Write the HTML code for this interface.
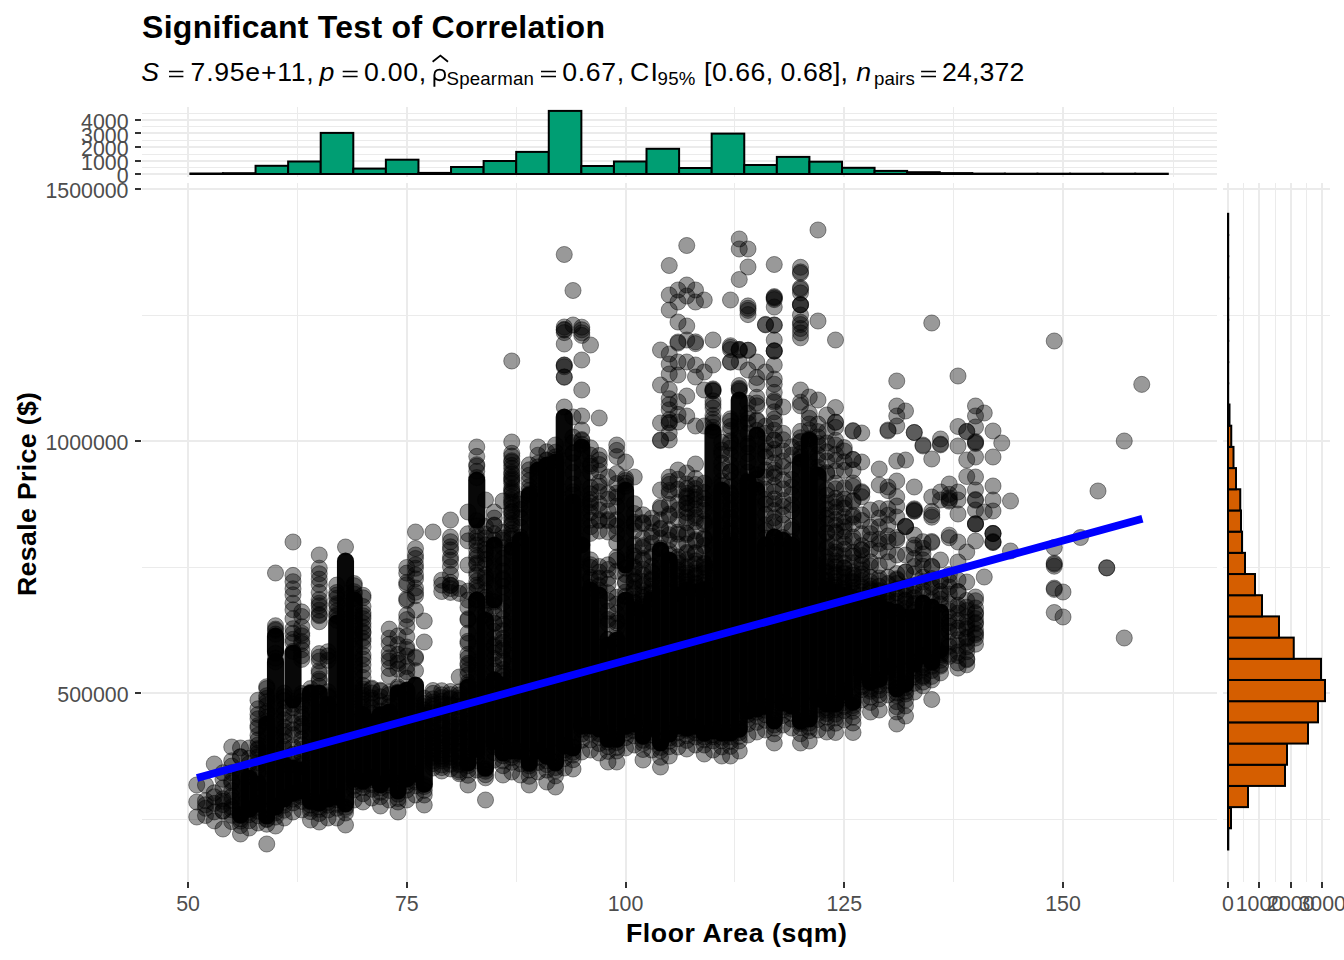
<!DOCTYPE html>
<html><head><meta charset="utf-8"><title>Significant Test of Correlation</title>
<style>html,body{margin:0;padding:0;background:#fff}body{width:1344px;height:960px;overflow:hidden;font-family:"Liberation Sans",sans-serif}</style>
</head><body>
<svg width="1344" height="960" viewBox="0 0 1344 960" style="display:block" font-family="Liberation Sans, sans-serif">
<rect width="1344" height="960" fill="#fff"/>
<g fill="#EBEBEB" shape-rendering="crispEdges"><rect x="297" y="183" width="1" height="699"/><rect x="297" y="107" width="1" height="70"/><rect x="516" y="183" width="1" height="699"/><rect x="516" y="107" width="1" height="70"/><rect x="734" y="183" width="1" height="699"/><rect x="734" y="107" width="1" height="70"/><rect x="953" y="183" width="1" height="699"/><rect x="953" y="107" width="1" height="70"/><rect x="1173" y="183" width="1" height="699"/><rect x="1173" y="107" width="1" height="70"/><rect x="187" y="183" width="2" height="699"/><rect x="187" y="107" width="2" height="70"/><rect x="406" y="183" width="2" height="699"/><rect x="406" y="107" width="2" height="70"/><rect x="625" y="183" width="2" height="699"/><rect x="625" y="107" width="2" height="70"/><rect x="843" y="183" width="2" height="699"/><rect x="843" y="107" width="2" height="70"/><rect x="1062" y="183" width="2" height="699"/><rect x="1062" y="107" width="2" height="70"/><rect x="142" y="315" width="1075" height="1"/><rect x="1223" y="315" width="107" height="1"/><rect x="142" y="567" width="1075" height="1"/><rect x="1223" y="567" width="107" height="1"/><rect x="142" y="819" width="1075" height="1"/><rect x="1223" y="819" width="107" height="1"/><rect x="142" y="188" width="1075" height="2"/><rect x="1223" y="188" width="107" height="2"/><rect x="142" y="440" width="1075" height="2"/><rect x="1223" y="440" width="107" height="2"/><rect x="142" y="692" width="1075" height="2"/><rect x="1223" y="692" width="107" height="2"/><rect x="142" y="113" width="1075" height="1"/><rect x="142" y="126" width="1075" height="1"/><rect x="142" y="140" width="1075" height="1"/><rect x="142" y="154" width="1075" height="1"/><rect x="142" y="167" width="1075" height="1"/><rect x="142" y="119" width="1075" height="2"/><rect x="142" y="132" width="1075" height="2"/><rect x="142" y="146" width="1075" height="2"/><rect x="142" y="160" width="1075" height="2"/><rect x="142" y="173" width="1075" height="2"/><rect x="1243" y="183" width="1" height="699"/><rect x="1275" y="183" width="1" height="699"/><rect x="1306" y="183" width="1" height="699"/><rect x="1227" y="183" width="2" height="699"/><rect x="1258" y="183" width="2" height="699"/><rect x="1290" y="183" width="2" height="699"/><rect x="1321" y="183" width="2" height="699"/></g>
<g fill="#333" shape-rendering="crispEdges"><rect x="135" y="188" width="6" height="2"/><rect x="135" y="440" width="6" height="2"/><rect x="135" y="692" width="6" height="2"/><rect x="135" y="119" width="6" height="2"/><rect x="135" y="132" width="6" height="2"/><rect x="135" y="146" width="6" height="2"/><rect x="135" y="160" width="6" height="2"/><rect x="135" y="173" width="6" height="2"/><rect x="187" y="882" width="2" height="6"/><rect x="406" y="882" width="2" height="6"/><rect x="625" y="882" width="2" height="6"/><rect x="843" y="882" width="2" height="6"/><rect x="1062" y="882" width="2" height="6"/><rect x="1227" y="882" width="2" height="6"/><rect x="1258" y="882" width="2" height="6"/><rect x="1290" y="882" width="2" height="6"/><rect x="1321" y="882" width="2" height="6"/></g>
<g fill="#000" fill-opacity=".97"><rect x="231.95" y="762.5" width="17.1" height="61.1" rx="8.55"/><rect x="240.70" y="769.5" width="17.1" height="48.1" rx="8.55"/><rect x="249.45" y="775.5" width="17.1" height="37.1" rx="8.55"/><rect x="258.20" y="715.5" width="17.1" height="109.1" rx="8.55"/><rect x="266.95" y="627.5" width="17.1" height="33.1" rx="8.55"/><rect x="266.95" y="653.5" width="17.1" height="162.1" rx="8.55"/><rect x="275.70" y="756.5" width="17.1" height="51.1" rx="8.55"/><rect x="284.45" y="644.5" width="17.1" height="64.1" rx="8.55"/><rect x="284.45" y="759.5" width="17.1" height="42.1" rx="8.55"/><rect x="293.20" y="761.5" width="17.1" height="38.1" rx="8.55"/><rect x="301.95" y="684.5" width="17.1" height="125.1" rx="8.55"/><rect x="310.70" y="684.5" width="17.1" height="127.1" rx="8.55"/><rect x="319.45" y="696.5" width="17.1" height="111.1" rx="8.55"/><rect x="328.20" y="614.5" width="17.1" height="191.1" rx="8.55"/><rect x="336.95" y="552.5" width="17.1" height="260.1" rx="8.55"/><rect x="345.70" y="591.5" width="17.1" height="196.1" rx="8.55"/><rect x="354.45" y="706.5" width="17.1" height="83.1" rx="8.55"/><rect x="363.20" y="713.5" width="17.1" height="72.1" rx="8.55"/><rect x="371.95" y="706.5" width="17.1" height="87.1" rx="8.55"/><rect x="380.70" y="703.5" width="17.1" height="84.1" rx="8.55"/><rect x="389.45" y="684.5" width="17.1" height="115.1" rx="8.55"/><rect x="398.20" y="681.5" width="17.1" height="106.1" rx="8.55"/><rect x="406.95" y="676.5" width="17.1" height="106.1" rx="8.55"/><rect x="415.70" y="706.5" width="17.1" height="86.1" rx="8.55"/><rect x="459.45" y="678.5" width="17.1" height="93.1" rx="8.55"/><rect x="468.20" y="471.4" width="17.1" height="57.1" rx="8.55"/><rect x="468.20" y="591.5" width="17.1" height="166.1" rx="8.55"/><rect x="476.95" y="611.5" width="17.1" height="165.1" rx="8.55"/><rect x="485.70" y="536.5" width="17.1" height="72.1" rx="8.55"/><rect x="485.70" y="671.5" width="17.1" height="78.1" rx="8.55"/><rect x="494.45" y="676.5" width="17.1" height="85.1" rx="8.55"/><rect x="503.20" y="541.5" width="17.1" height="218.1" rx="8.55"/><rect x="511.95" y="531.5" width="17.1" height="228.1" rx="8.55"/><rect x="520.70" y="486.4" width="17.1" height="285.1" rx="8.55"/><rect x="529.45" y="461.4" width="17.1" height="298.1" rx="8.55"/><rect x="538.20" y="456.4" width="17.1" height="308.1" rx="8.55"/><rect x="546.95" y="453.4" width="17.1" height="318.1" rx="8.55"/><rect x="555.70" y="408.4" width="17.1" height="346.1" rx="8.55"/><rect x="564.45" y="493.4" width="17.1" height="263.1" rx="8.55"/><rect x="573.20" y="438.4" width="17.1" height="115.1" rx="8.55"/><rect x="573.20" y="536.5" width="17.1" height="198.1" rx="8.55"/><rect x="581.95" y="581.5" width="17.1" height="153.1" rx="8.55"/><rect x="590.70" y="586.5" width="17.1" height="151.1" rx="8.55"/><rect x="599.45" y="636.5" width="17.1" height="111.1" rx="8.55"/><rect x="608.20" y="631.5" width="17.1" height="116.1" rx="8.55"/><rect x="616.95" y="481.4" width="17.1" height="92.1" rx="8.55"/><rect x="616.95" y="591.5" width="17.1" height="143.1" rx="8.55"/><rect x="625.70" y="601.5" width="17.1" height="131.1" rx="8.55"/><rect x="634.45" y="603.5" width="17.1" height="141.1" rx="8.55"/><rect x="643.20" y="591.5" width="17.1" height="145.1" rx="8.55"/><rect x="651.95" y="541.5" width="17.1" height="210.1" rx="8.55"/><rect x="660.70" y="551.5" width="17.1" height="191.1" rx="8.55"/><rect x="669.45" y="586.5" width="17.1" height="148.1" rx="8.55"/><rect x="678.20" y="581.5" width="17.1" height="155.1" rx="8.55"/><rect x="686.95" y="583.5" width="17.1" height="151.1" rx="8.55"/><rect x="695.70" y="581.5" width="17.1" height="160.1" rx="8.55"/><rect x="704.45" y="423.4" width="17.1" height="316.1" rx="8.55"/><rect x="713.20" y="481.4" width="17.1" height="260.1" rx="8.55"/><rect x="721.95" y="536.5" width="17.1" height="205.1" rx="8.55"/><rect x="730.70" y="391.4" width="17.1" height="346.1" rx="8.55"/><rect x="739.45" y="473.4" width="17.1" height="246.1" rx="8.55"/><rect x="748.20" y="426.4" width="17.1" height="52.1" rx="8.55"/><rect x="748.20" y="481.4" width="17.1" height="236.1" rx="8.55"/><rect x="756.95" y="536.5" width="17.1" height="178.1" rx="8.55"/><rect x="765.70" y="528.5" width="17.1" height="201.1" rx="8.55"/><rect x="774.45" y="531.5" width="17.1" height="180.1" rx="8.55"/><rect x="783.20" y="536.5" width="17.1" height="178.1" rx="8.55"/><rect x="791.95" y="453.4" width="17.1" height="276.1" rx="8.55"/><rect x="800.70" y="431.4" width="17.1" height="296.1" rx="8.55"/><rect x="809.45" y="466.4" width="17.1" height="241.1" rx="8.55"/><rect x="818.20" y="581.5" width="17.1" height="131.1" rx="8.55"/><rect x="826.95" y="583.5" width="17.1" height="129.1" rx="8.55"/><rect x="835.70" y="586.5" width="17.1" height="114.1" rx="8.55"/><rect x="844.45" y="589.5" width="17.1" height="121.1" rx="8.55"/><rect x="853.20" y="591.5" width="17.1" height="89.1" rx="8.55"/><rect x="861.95" y="594.5" width="17.1" height="96.1" rx="8.55"/><rect x="870.70" y="596.5" width="17.1" height="91.1" rx="8.55"/><rect x="879.45" y="601.5" width="17.1" height="74.1" rx="8.55"/><rect x="888.20" y="603.5" width="17.1" height="94.1" rx="8.55"/><rect x="896.95" y="608.5" width="17.1" height="84.1" rx="8.55"/><rect x="905.70" y="608.5" width="17.1" height="64.1" rx="8.55"/><rect x="914.45" y="594.5" width="17.1" height="69.1" rx="8.55"/><rect x="923.20" y="598.5" width="17.1" height="72.1" rx="8.55"/><rect x="931.95" y="603.5" width="17.1" height="55.1" rx="8.55"/></g>
<g fill="#000" fill-opacity=".4" stroke="#000" stroke-opacity=".4" stroke-width="1"><circle cx="196.75" cy="785.0" r="8.05"/><circle cx="196.75" cy="802.0" r="8.05"/><circle cx="196.75" cy="817.0" r="8.05"/><circle cx="205.50" cy="785.0" r="8.05"/><circle cx="205.50" cy="800.7" r="8.05"/><circle cx="205.50" cy="804.8" r="8.05"/><circle cx="205.50" cy="808.3" r="8.05"/><circle cx="205.50" cy="815.5" r="8.05"/><circle cx="214.25" cy="764.0" r="8.05"/><circle cx="214.25" cy="792.8" r="8.05"/><circle cx="214.25" cy="796.8" r="8.05"/><circle cx="214.25" cy="803.4" r="8.05"/><circle cx="214.25" cy="811.9" r="8.05"/><circle cx="214.25" cy="820.9" r="8.05"/><circle cx="223.00" cy="772.7" r="8.05"/><circle cx="223.00" cy="779.3" r="8.05"/><circle cx="223.00" cy="787.8" r="8.05"/><circle cx="223.00" cy="798.8" r="8.05"/><circle cx="223.00" cy="801.3" r="8.05"/><circle cx="223.00" cy="804.6" r="8.05"/><circle cx="223.00" cy="810.9" r="8.05"/><circle cx="223.00" cy="811.2" r="8.05"/><circle cx="223.00" cy="829.0" r="8.05"/><circle cx="231.75" cy="747.0" r="8.05"/><circle cx="231.75" cy="760.8" r="8.05"/><circle cx="231.75" cy="766.1" r="8.05"/><circle cx="231.75" cy="772.7" r="8.05"/><circle cx="231.75" cy="781.0" r="8.05"/><circle cx="231.75" cy="783.0" r="8.05"/><circle cx="231.75" cy="790.7" r="8.05"/><circle cx="231.75" cy="796.5" r="8.05"/><circle cx="231.75" cy="800.5" r="8.05"/><circle cx="231.75" cy="807.0" r="8.05"/><circle cx="231.75" cy="809.8" r="8.05"/><circle cx="231.75" cy="815.3" r="8.05"/><circle cx="231.75" cy="821.6" r="8.05"/><circle cx="240.50" cy="748.0" r="8.05"/><circle cx="240.50" cy="756.9" r="8.05"/><circle cx="240.50" cy="756.8" r="8.05"/><circle cx="240.50" cy="834.0" r="8.05"/><circle cx="240.50" cy="825.6" r="8.05"/><circle cx="240.50" cy="821.1" r="8.05"/><circle cx="240.50" cy="818.6" r="8.05"/><circle cx="240.50" cy="815.4" r="8.05"/><circle cx="249.25" cy="748.0" r="8.05"/><circle cx="249.25" cy="758.3" r="8.05"/><circle cx="249.25" cy="763.8" r="8.05"/><circle cx="249.25" cy="771.5" r="8.05"/><circle cx="249.25" cy="776.4" r="8.05"/><circle cx="249.25" cy="828.0" r="8.05"/><circle cx="249.25" cy="820.7" r="8.05"/><circle cx="249.25" cy="814.7" r="8.05"/><circle cx="249.25" cy="811.8" r="8.05"/><circle cx="249.25" cy="809.5" r="8.05"/><circle cx="258.00" cy="748.5" r="8.05"/><circle cx="258.00" cy="753.2" r="8.05"/><circle cx="258.00" cy="700.2" r="8.05"/><circle cx="258.00" cy="708.8" r="8.05"/><circle cx="258.00" cy="714.5" r="8.05"/><circle cx="258.00" cy="718.8" r="8.05"/><circle cx="258.00" cy="725.6" r="8.05"/><circle cx="258.00" cy="727.9" r="8.05"/><circle cx="258.00" cy="735.2" r="8.05"/><circle cx="258.00" cy="739.9" r="8.05"/><circle cx="258.00" cy="745.0" r="8.05"/><circle cx="258.00" cy="749.6" r="8.05"/><circle cx="258.00" cy="756.9" r="8.05"/><circle cx="258.00" cy="762.7" r="8.05"/><circle cx="258.00" cy="765.5" r="8.05"/><circle cx="258.00" cy="771.7" r="8.05"/><circle cx="258.00" cy="773.8" r="8.05"/><circle cx="258.00" cy="782.4" r="8.05"/><circle cx="258.00" cy="823.0" r="8.05"/><circle cx="258.00" cy="815.7" r="8.05"/><circle cx="258.00" cy="811.1" r="8.05"/><circle cx="258.00" cy="806.6" r="8.05"/><circle cx="258.00" cy="803.8" r="8.05"/><circle cx="266.75" cy="686.7" r="8.05"/><circle cx="266.75" cy="688.6" r="8.05"/><circle cx="266.75" cy="695.7" r="8.05"/><circle cx="266.75" cy="698.4" r="8.05"/><circle cx="266.75" cy="701.9" r="8.05"/><circle cx="266.75" cy="705.5" r="8.05"/><circle cx="266.75" cy="711.9" r="8.05"/><circle cx="266.75" cy="713.2" r="8.05"/><circle cx="266.75" cy="717.4" r="8.05"/><circle cx="266.75" cy="721.7" r="8.05"/><circle cx="266.75" cy="818.9" r="8.05"/><circle cx="266.75" cy="819.6" r="8.05"/><circle cx="266.75" cy="824.2" r="8.05"/><circle cx="266.75" cy="844.0" r="8.05"/><circle cx="275.50" cy="573.0" r="8.05"/><circle cx="275.50" cy="625.7" r="8.05"/><circle cx="275.50" cy="629.1" r="8.05"/><circle cx="275.50" cy="630.4" r="8.05"/><circle cx="275.50" cy="634.1" r="8.05"/><circle cx="275.50" cy="653.2" r="8.05"/><circle cx="275.50" cy="658.3" r="8.05"/><circle cx="275.50" cy="661.9" r="8.05"/><circle cx="275.50" cy="826.0" r="8.05"/><circle cx="275.50" cy="817.1" r="8.05"/><circle cx="275.50" cy="812.9" r="8.05"/><circle cx="275.50" cy="809.5" r="8.05"/><circle cx="275.50" cy="807.0" r="8.05"/><circle cx="284.25" cy="693.2" r="8.05"/><circle cx="284.25" cy="696.8" r="8.05"/><circle cx="284.25" cy="700.7" r="8.05"/><circle cx="284.25" cy="708.3" r="8.05"/><circle cx="284.25" cy="713.4" r="8.05"/><circle cx="284.25" cy="719.8" r="8.05"/><circle cx="284.25" cy="727.2" r="8.05"/><circle cx="284.25" cy="731.2" r="8.05"/><circle cx="284.25" cy="735.6" r="8.05"/><circle cx="284.25" cy="741.5" r="8.05"/><circle cx="284.25" cy="747.2" r="8.05"/><circle cx="284.25" cy="749.2" r="8.05"/><circle cx="284.25" cy="759.1" r="8.05"/><circle cx="284.25" cy="763.8" r="8.05"/><circle cx="284.25" cy="818.0" r="8.05"/><circle cx="284.25" cy="810.3" r="8.05"/><circle cx="284.25" cy="805.2" r="8.05"/><circle cx="284.25" cy="801.8" r="8.05"/><circle cx="284.25" cy="798.2" r="8.05"/><circle cx="293.00" cy="542.0" r="8.05"/><circle cx="293.00" cy="575.4" r="8.05"/><circle cx="293.00" cy="581.7" r="8.05"/><circle cx="293.00" cy="588.8" r="8.05"/><circle cx="293.00" cy="594.8" r="8.05"/><circle cx="293.00" cy="603.2" r="8.05"/><circle cx="293.00" cy="609.8" r="8.05"/><circle cx="293.00" cy="618.7" r="8.05"/><circle cx="293.00" cy="628.7" r="8.05"/><circle cx="293.00" cy="633.3" r="8.05"/><circle cx="293.00" cy="639.3" r="8.05"/><circle cx="293.00" cy="642.5" r="8.05"/><circle cx="293.00" cy="651.4" r="8.05"/><circle cx="293.00" cy="704.2" r="8.05"/><circle cx="293.00" cy="707.8" r="8.05"/><circle cx="293.00" cy="715.3" r="8.05"/><circle cx="293.00" cy="722.8" r="8.05"/><circle cx="293.00" cy="729.7" r="8.05"/><circle cx="293.00" cy="734.8" r="8.05"/><circle cx="293.00" cy="746.6" r="8.05"/><circle cx="293.00" cy="754.4" r="8.05"/><circle cx="293.00" cy="757.6" r="8.05"/><circle cx="293.00" cy="764.5" r="8.05"/><circle cx="293.00" cy="812.0" r="8.05"/><circle cx="293.00" cy="802.9" r="8.05"/><circle cx="293.00" cy="799.1" r="8.05"/><circle cx="293.00" cy="795.5" r="8.05"/><circle cx="293.00" cy="793.7" r="8.05"/><circle cx="301.75" cy="611.9" r="8.05"/><circle cx="301.75" cy="616.5" r="8.05"/><circle cx="301.75" cy="626.7" r="8.05"/><circle cx="301.75" cy="633.2" r="8.05"/><circle cx="301.75" cy="635.8" r="8.05"/><circle cx="301.75" cy="641.5" r="8.05"/><circle cx="301.75" cy="643.5" r="8.05"/><circle cx="301.75" cy="649.8" r="8.05"/><circle cx="301.75" cy="655.8" r="8.05"/><circle cx="301.75" cy="659.4" r="8.05"/><circle cx="301.75" cy="693.5" r="8.05"/><circle cx="301.75" cy="696.3" r="8.05"/><circle cx="301.75" cy="701.8" r="8.05"/><circle cx="301.75" cy="705.8" r="8.05"/><circle cx="301.75" cy="713.9" r="8.05"/><circle cx="301.75" cy="717.7" r="8.05"/><circle cx="301.75" cy="723.9" r="8.05"/><circle cx="301.75" cy="726.6" r="8.05"/><circle cx="301.75" cy="731.1" r="8.05"/><circle cx="301.75" cy="739.1" r="8.05"/><circle cx="301.75" cy="744.9" r="8.05"/><circle cx="301.75" cy="749.3" r="8.05"/><circle cx="301.75" cy="754.0" r="8.05"/><circle cx="301.75" cy="759.1" r="8.05"/><circle cx="301.75" cy="763.7" r="8.05"/><circle cx="301.75" cy="766.1" r="8.05"/><circle cx="301.75" cy="810.0" r="8.05"/><circle cx="301.75" cy="801.4" r="8.05"/><circle cx="301.75" cy="796.5" r="8.05"/><circle cx="301.75" cy="793.1" r="8.05"/><circle cx="301.75" cy="790.6" r="8.05"/><circle cx="310.50" cy="688.6" r="8.05"/><circle cx="310.50" cy="692.2" r="8.05"/><circle cx="310.50" cy="820.0" r="8.05"/><circle cx="310.50" cy="811.6" r="8.05"/><circle cx="310.50" cy="808.3" r="8.05"/><circle cx="310.50" cy="805.0" r="8.05"/><circle cx="310.50" cy="801.9" r="8.05"/><circle cx="319.25" cy="555.0" r="8.05"/><circle cx="319.25" cy="568.2" r="8.05"/><circle cx="319.25" cy="573.7" r="8.05"/><circle cx="319.25" cy="579.1" r="8.05"/><circle cx="319.25" cy="584.6" r="8.05"/><circle cx="319.25" cy="592.4" r="8.05"/><circle cx="319.25" cy="599.5" r="8.05"/><circle cx="319.25" cy="603.2" r="8.05"/><circle cx="319.25" cy="605.7" r="8.05"/><circle cx="319.25" cy="610.2" r="8.05"/><circle cx="319.25" cy="614.6" r="8.05"/><circle cx="319.25" cy="615.7" r="8.05"/><circle cx="319.25" cy="621.7" r="8.05"/><circle cx="319.25" cy="653.6" r="8.05"/><circle cx="319.25" cy="657.1" r="8.05"/><circle cx="319.25" cy="661.0" r="8.05"/><circle cx="319.25" cy="670.7" r="8.05"/><circle cx="319.25" cy="673.2" r="8.05"/><circle cx="319.25" cy="679.0" r="8.05"/><circle cx="319.25" cy="681.0" r="8.05"/><circle cx="319.25" cy="686.3" r="8.05"/><circle cx="319.25" cy="822.0" r="8.05"/><circle cx="319.25" cy="813.5" r="8.05"/><circle cx="319.25" cy="809.3" r="8.05"/><circle cx="319.25" cy="806.9" r="8.05"/><circle cx="319.25" cy="803.4" r="8.05"/><circle cx="328.00" cy="651.7" r="8.05"/><circle cx="328.00" cy="655.9" r="8.05"/><circle cx="328.00" cy="660.3" r="8.05"/><circle cx="328.00" cy="691.8" r="8.05"/><circle cx="328.00" cy="695.7" r="8.05"/><circle cx="328.00" cy="697.1" r="8.05"/><circle cx="328.00" cy="704.3" r="8.05"/><circle cx="328.00" cy="818.0" r="8.05"/><circle cx="328.00" cy="810.0" r="8.05"/><circle cx="328.00" cy="805.2" r="8.05"/><circle cx="328.00" cy="802.1" r="8.05"/><circle cx="328.00" cy="798.3" r="8.05"/><circle cx="336.75" cy="585.1" r="8.05"/><circle cx="336.75" cy="592.5" r="8.05"/><circle cx="336.75" cy="595.1" r="8.05"/><circle cx="336.75" cy="598.4" r="8.05"/><circle cx="336.75" cy="603.7" r="8.05"/><circle cx="336.75" cy="605.6" r="8.05"/><circle cx="336.75" cy="611.1" r="8.05"/><circle cx="336.75" cy="614.7" r="8.05"/><circle cx="336.75" cy="616.2" r="8.05"/><circle cx="336.75" cy="620.2" r="8.05"/><circle cx="336.75" cy="818.0" r="8.05"/><circle cx="336.75" cy="808.3" r="8.05"/><circle cx="336.75" cy="804.3" r="8.05"/><circle cx="336.75" cy="799.8" r="8.05"/><circle cx="336.75" cy="796.8" r="8.05"/><circle cx="345.50" cy="547.0" r="8.05"/><circle cx="345.50" cy="807.3" r="8.05"/><circle cx="345.50" cy="809.0" r="8.05"/><circle cx="345.50" cy="813.0" r="8.05"/><circle cx="345.50" cy="825.0" r="8.05"/><circle cx="354.25" cy="583.6" r="8.05"/><circle cx="354.25" cy="585.7" r="8.05"/><circle cx="354.25" cy="591.7" r="8.05"/><circle cx="354.25" cy="594.0" r="8.05"/><circle cx="354.25" cy="598.1" r="8.05"/><circle cx="354.25" cy="800.0" r="8.05"/><circle cx="354.25" cy="789.9" r="8.05"/><circle cx="354.25" cy="786.0" r="8.05"/><circle cx="354.25" cy="781.7" r="8.05"/><circle cx="354.25" cy="778.0" r="8.05"/><circle cx="363.00" cy="595.3" r="8.05"/><circle cx="363.00" cy="597.8" r="8.05"/><circle cx="363.00" cy="606.5" r="8.05"/><circle cx="363.00" cy="612.7" r="8.05"/><circle cx="363.00" cy="615.8" r="8.05"/><circle cx="363.00" cy="618.7" r="8.05"/><circle cx="363.00" cy="623.2" r="8.05"/><circle cx="363.00" cy="627.1" r="8.05"/><circle cx="363.00" cy="631.7" r="8.05"/><circle cx="363.00" cy="632.9" r="8.05"/><circle cx="363.00" cy="638.4" r="8.05"/><circle cx="363.00" cy="641.3" r="8.05"/><circle cx="363.00" cy="646.9" r="8.05"/><circle cx="363.00" cy="655.0" r="8.05"/><circle cx="363.00" cy="659.0" r="8.05"/><circle cx="363.00" cy="664.8" r="8.05"/><circle cx="363.00" cy="671.3" r="8.05"/><circle cx="363.00" cy="677.5" r="8.05"/><circle cx="363.00" cy="685.4" r="8.05"/><circle cx="363.00" cy="689.0" r="8.05"/><circle cx="363.00" cy="691.8" r="8.05"/><circle cx="363.00" cy="694.9" r="8.05"/><circle cx="363.00" cy="698.5" r="8.05"/><circle cx="363.00" cy="700.9" r="8.05"/><circle cx="363.00" cy="704.3" r="8.05"/><circle cx="363.00" cy="707.2" r="8.05"/><circle cx="363.00" cy="711.7" r="8.05"/><circle cx="363.00" cy="714.1" r="8.05"/><circle cx="363.00" cy="802.0" r="8.05"/><circle cx="363.00" cy="793.7" r="8.05"/><circle cx="363.00" cy="787.7" r="8.05"/><circle cx="363.00" cy="784.4" r="8.05"/><circle cx="363.00" cy="781.9" r="8.05"/><circle cx="371.75" cy="688.1" r="8.05"/><circle cx="371.75" cy="689.3" r="8.05"/><circle cx="371.75" cy="693.0" r="8.05"/><circle cx="371.75" cy="697.9" r="8.05"/><circle cx="371.75" cy="700.3" r="8.05"/><circle cx="371.75" cy="704.5" r="8.05"/><circle cx="371.75" cy="707.6" r="8.05"/><circle cx="371.75" cy="713.5" r="8.05"/><circle cx="371.75" cy="717.5" r="8.05"/><circle cx="371.75" cy="721.6" r="8.05"/><circle cx="371.75" cy="798.0" r="8.05"/><circle cx="371.75" cy="789.3" r="8.05"/><circle cx="371.75" cy="784.5" r="8.05"/><circle cx="371.75" cy="779.6" r="8.05"/><circle cx="371.75" cy="777.8" r="8.05"/><circle cx="380.50" cy="690.2" r="8.05"/><circle cx="380.50" cy="691.1" r="8.05"/><circle cx="380.50" cy="696.8" r="8.05"/><circle cx="380.50" cy="701.5" r="8.05"/><circle cx="380.50" cy="705.6" r="8.05"/><circle cx="380.50" cy="711.2" r="8.05"/><circle cx="380.50" cy="714.4" r="8.05"/><circle cx="380.50" cy="806.0" r="8.05"/><circle cx="380.50" cy="796.7" r="8.05"/><circle cx="380.50" cy="792.2" r="8.05"/><circle cx="380.50" cy="788.0" r="8.05"/><circle cx="380.50" cy="784.4" r="8.05"/><circle cx="389.25" cy="629.1" r="8.05"/><circle cx="389.25" cy="638.2" r="8.05"/><circle cx="389.25" cy="644.1" r="8.05"/><circle cx="389.25" cy="652.8" r="8.05"/><circle cx="389.25" cy="657.8" r="8.05"/><circle cx="389.25" cy="661.1" r="8.05"/><circle cx="389.25" cy="668.5" r="8.05"/><circle cx="389.25" cy="675.9" r="8.05"/><circle cx="389.25" cy="692.3" r="8.05"/><circle cx="389.25" cy="694.7" r="8.05"/><circle cx="389.25" cy="703.1" r="8.05"/><circle cx="389.25" cy="706.7" r="8.05"/><circle cx="389.25" cy="711.9" r="8.05"/><circle cx="389.25" cy="800.0" r="8.05"/><circle cx="389.25" cy="790.4" r="8.05"/><circle cx="389.25" cy="785.2" r="8.05"/><circle cx="389.25" cy="782.9" r="8.05"/><circle cx="389.25" cy="778.5" r="8.05"/><circle cx="398.00" cy="635.9" r="8.05"/><circle cx="398.00" cy="644.5" r="8.05"/><circle cx="398.00" cy="654.4" r="8.05"/><circle cx="398.00" cy="660.5" r="8.05"/><circle cx="398.00" cy="663.4" r="8.05"/><circle cx="398.00" cy="669.3" r="8.05"/><circle cx="398.00" cy="686.8" r="8.05"/><circle cx="398.00" cy="688.7" r="8.05"/><circle cx="398.00" cy="692.1" r="8.05"/><circle cx="398.00" cy="812.0" r="8.05"/><circle cx="398.00" cy="802.0" r="8.05"/><circle cx="398.00" cy="798.5" r="8.05"/><circle cx="398.00" cy="794.2" r="8.05"/><circle cx="398.00" cy="790.1" r="8.05"/><circle cx="406.75" cy="567.5" r="8.05"/><circle cx="406.75" cy="573.1" r="8.05"/><circle cx="406.75" cy="582.4" r="8.05"/><circle cx="406.75" cy="584.7" r="8.05"/><circle cx="406.75" cy="598.8" r="8.05"/><circle cx="406.75" cy="600.5" r="8.05"/><circle cx="406.75" cy="614.9" r="8.05"/><circle cx="406.75" cy="619.6" r="8.05"/><circle cx="406.75" cy="626.7" r="8.05"/><circle cx="406.75" cy="636.4" r="8.05"/><circle cx="406.75" cy="647.0" r="8.05"/><circle cx="406.75" cy="649.5" r="8.05"/><circle cx="406.75" cy="656.0" r="8.05"/><circle cx="406.75" cy="666.5" r="8.05"/><circle cx="406.75" cy="671.8" r="8.05"/><circle cx="406.75" cy="678.3" r="8.05"/><circle cx="406.75" cy="800.0" r="8.05"/><circle cx="406.75" cy="790.0" r="8.05"/><circle cx="406.75" cy="785.5" r="8.05"/><circle cx="406.75" cy="782.0" r="8.05"/><circle cx="406.75" cy="778.6" r="8.05"/><circle cx="415.50" cy="532.0" r="8.05"/><circle cx="415.50" cy="548.5" r="8.05"/><circle cx="415.50" cy="555.0" r="8.05"/><circle cx="415.50" cy="558.5" r="8.05"/><circle cx="415.50" cy="564.7" r="8.05"/><circle cx="415.50" cy="568.3" r="8.05"/><circle cx="415.50" cy="574.8" r="8.05"/><circle cx="415.50" cy="578.9" r="8.05"/><circle cx="415.50" cy="588.0" r="8.05"/><circle cx="415.50" cy="592.3" r="8.05"/><circle cx="415.50" cy="595.7" r="8.05"/><circle cx="415.50" cy="610.0" r="8.05"/><circle cx="415.50" cy="656.9" r="8.05"/><circle cx="415.50" cy="658.1" r="8.05"/><circle cx="415.50" cy="670.7" r="8.05"/><circle cx="415.50" cy="795.0" r="8.05"/><circle cx="415.50" cy="785.8" r="8.05"/><circle cx="415.50" cy="781.8" r="8.05"/><circle cx="415.50" cy="777.1" r="8.05"/><circle cx="415.50" cy="774.0" r="8.05"/><circle cx="424.25" cy="621.0" r="8.05"/><circle cx="424.25" cy="642.0" r="8.05"/><circle cx="424.25" cy="698.2" r="8.05"/><circle cx="424.25" cy="703.6" r="8.05"/><circle cx="424.25" cy="706.7" r="8.05"/><circle cx="424.25" cy="710.1" r="8.05"/><circle cx="424.25" cy="712.9" r="8.05"/><circle cx="424.25" cy="805.0" r="8.05"/><circle cx="424.25" cy="795.0" r="8.05"/><circle cx="424.25" cy="790.4" r="8.05"/><circle cx="424.25" cy="786.5" r="8.05"/><circle cx="424.25" cy="784.5" r="8.05"/><circle cx="433.00" cy="532.0" r="8.05"/><circle cx="433.00" cy="690.5" r="8.05"/><circle cx="433.00" cy="693.4" r="8.05"/><circle cx="433.00" cy="698.9" r="8.05"/><circle cx="433.00" cy="702.1" r="8.05"/><circle cx="433.00" cy="704.6" r="8.05"/><circle cx="433.00" cy="706.5" r="8.05"/><circle cx="433.00" cy="709.5" r="8.05"/><circle cx="433.00" cy="712.8" r="8.05"/><circle cx="433.00" cy="716.1" r="8.05"/><circle cx="433.00" cy="717.9" r="8.05"/><circle cx="433.00" cy="721.1" r="8.05"/><circle cx="433.00" cy="723.2" r="8.05"/><circle cx="433.00" cy="727.4" r="8.05"/><circle cx="433.00" cy="729.9" r="8.05"/><circle cx="433.00" cy="731.4" r="8.05"/><circle cx="433.00" cy="733.1" r="8.05"/><circle cx="433.00" cy="737.4" r="8.05"/><circle cx="433.00" cy="738.3" r="8.05"/><circle cx="433.00" cy="740.9" r="8.05"/><circle cx="433.00" cy="742.5" r="8.05"/><circle cx="433.00" cy="746.0" r="8.05"/><circle cx="433.00" cy="748.7" r="8.05"/><circle cx="433.00" cy="751.3" r="8.05"/><circle cx="433.00" cy="753.0" r="8.05"/><circle cx="433.00" cy="756.3" r="8.05"/><circle cx="433.00" cy="757.5" r="8.05"/><circle cx="433.00" cy="760.9" r="8.05"/><circle cx="433.00" cy="763.6" r="8.05"/><circle cx="433.00" cy="768.0" r="8.05"/><circle cx="441.75" cy="580.2" r="8.05"/><circle cx="441.75" cy="585.1" r="8.05"/><circle cx="441.75" cy="591.5" r="8.05"/><circle cx="441.75" cy="690.7" r="8.05"/><circle cx="441.75" cy="694.8" r="8.05"/><circle cx="441.75" cy="697.6" r="8.05"/><circle cx="441.75" cy="701.3" r="8.05"/><circle cx="441.75" cy="704.0" r="8.05"/><circle cx="441.75" cy="707.1" r="8.05"/><circle cx="441.75" cy="710.6" r="8.05"/><circle cx="441.75" cy="712.2" r="8.05"/><circle cx="441.75" cy="715.0" r="8.05"/><circle cx="441.75" cy="720.0" r="8.05"/><circle cx="441.75" cy="720.4" r="8.05"/><circle cx="441.75" cy="724.5" r="8.05"/><circle cx="441.75" cy="726.9" r="8.05"/><circle cx="441.75" cy="728.0" r="8.05"/><circle cx="441.75" cy="732.7" r="8.05"/><circle cx="441.75" cy="735.5" r="8.05"/><circle cx="441.75" cy="737.4" r="8.05"/><circle cx="441.75" cy="740.3" r="8.05"/><circle cx="441.75" cy="743.1" r="8.05"/><circle cx="441.75" cy="744.0" r="8.05"/><circle cx="441.75" cy="747.6" r="8.05"/><circle cx="441.75" cy="750.2" r="8.05"/><circle cx="441.75" cy="753.7" r="8.05"/><circle cx="441.75" cy="756.2" r="8.05"/><circle cx="441.75" cy="758.9" r="8.05"/><circle cx="441.75" cy="760.9" r="8.05"/><circle cx="441.75" cy="765.0" r="8.05"/><circle cx="441.75" cy="767.6" r="8.05"/><circle cx="441.75" cy="771.0" r="8.05"/><circle cx="450.50" cy="520.0" r="8.05"/><circle cx="450.50" cy="537.1" r="8.05"/><circle cx="450.50" cy="541.7" r="8.05"/><circle cx="450.50" cy="546.8" r="8.05"/><circle cx="450.50" cy="549.9" r="8.05"/><circle cx="450.50" cy="557.1" r="8.05"/><circle cx="450.50" cy="560.2" r="8.05"/><circle cx="450.50" cy="566.8" r="8.05"/><circle cx="450.50" cy="574.4" r="8.05"/><circle cx="450.50" cy="582.4" r="8.05"/><circle cx="450.50" cy="588.5" r="8.05"/><circle cx="450.50" cy="592.4" r="8.05"/><circle cx="450.50" cy="585.4" r="8.05"/><circle cx="450.50" cy="585.3" r="8.05"/><circle cx="450.50" cy="691.5" r="8.05"/><circle cx="450.50" cy="694.6" r="8.05"/><circle cx="450.50" cy="698.0" r="8.05"/><circle cx="450.50" cy="699.2" r="8.05"/><circle cx="450.50" cy="704.2" r="8.05"/><circle cx="450.50" cy="705.8" r="8.05"/><circle cx="450.50" cy="708.2" r="8.05"/><circle cx="450.50" cy="711.8" r="8.05"/><circle cx="450.50" cy="716.2" r="8.05"/><circle cx="450.50" cy="717.6" r="8.05"/><circle cx="450.50" cy="721.8" r="8.05"/><circle cx="450.50" cy="724.9" r="8.05"/><circle cx="450.50" cy="726.2" r="8.05"/><circle cx="450.50" cy="728.5" r="8.05"/><circle cx="450.50" cy="731.2" r="8.05"/><circle cx="450.50" cy="734.2" r="8.05"/><circle cx="450.50" cy="736.9" r="8.05"/><circle cx="450.50" cy="739.0" r="8.05"/><circle cx="450.50" cy="741.6" r="8.05"/><circle cx="450.50" cy="742.7" r="8.05"/><circle cx="450.50" cy="745.4" r="8.05"/><circle cx="450.50" cy="748.1" r="8.05"/><circle cx="450.50" cy="751.9" r="8.05"/><circle cx="450.50" cy="753.3" r="8.05"/><circle cx="450.50" cy="756.4" r="8.05"/><circle cx="450.50" cy="757.5" r="8.05"/><circle cx="450.50" cy="760.2" r="8.05"/><circle cx="450.50" cy="764.2" r="8.05"/><circle cx="450.50" cy="768.9" r="8.05"/><circle cx="459.25" cy="588.5" r="8.05"/><circle cx="459.25" cy="593.4" r="8.05"/><circle cx="459.25" cy="677.0" r="8.05"/><circle cx="459.25" cy="691.7" r="8.05"/><circle cx="459.25" cy="694.9" r="8.05"/><circle cx="459.25" cy="698.2" r="8.05"/><circle cx="459.25" cy="700.4" r="8.05"/><circle cx="459.25" cy="706.3" r="8.05"/><circle cx="459.25" cy="707.3" r="8.05"/><circle cx="459.25" cy="713.3" r="8.05"/><circle cx="459.25" cy="716.5" r="8.05"/><circle cx="459.25" cy="716.7" r="8.05"/><circle cx="459.25" cy="721.2" r="8.05"/><circle cx="459.25" cy="724.8" r="8.05"/><circle cx="459.25" cy="727.8" r="8.05"/><circle cx="459.25" cy="729.0" r="8.05"/><circle cx="459.25" cy="731.1" r="8.05"/><circle cx="459.25" cy="733.6" r="8.05"/><circle cx="459.25" cy="738.1" r="8.05"/><circle cx="459.25" cy="738.8" r="8.05"/><circle cx="459.25" cy="742.4" r="8.05"/><circle cx="459.25" cy="743.9" r="8.05"/><circle cx="459.25" cy="747.5" r="8.05"/><circle cx="459.25" cy="751.2" r="8.05"/><circle cx="459.25" cy="751.7" r="8.05"/><circle cx="459.25" cy="756.1" r="8.05"/><circle cx="459.25" cy="757.9" r="8.05"/><circle cx="459.25" cy="761.5" r="8.05"/><circle cx="459.25" cy="763.6" r="8.05"/><circle cx="459.25" cy="765.0" r="8.05"/><circle cx="459.25" cy="770.0" r="8.05"/><circle cx="459.25" cy="772.0" r="8.05"/><circle cx="459.25" cy="773.7" r="8.05"/><circle cx="468.00" cy="512.0" r="8.05"/><circle cx="468.00" cy="533.7" r="8.05"/><circle cx="468.00" cy="540.9" r="8.05"/><circle cx="468.00" cy="565.0" r="8.05"/><circle cx="468.00" cy="591.1" r="8.05"/><circle cx="468.00" cy="600.1" r="8.05"/><circle cx="468.00" cy="607.4" r="8.05"/><circle cx="468.00" cy="618.8" r="8.05"/><circle cx="468.00" cy="620.0" r="8.05"/><circle cx="468.00" cy="633.1" r="8.05"/><circle cx="468.00" cy="641.3" r="8.05"/><circle cx="468.00" cy="643.4" r="8.05"/><circle cx="468.00" cy="654.3" r="8.05"/><circle cx="468.00" cy="657.9" r="8.05"/><circle cx="468.00" cy="663.4" r="8.05"/><circle cx="468.00" cy="665.2" r="8.05"/><circle cx="468.00" cy="670.2" r="8.05"/><circle cx="468.00" cy="674.9" r="8.05"/><circle cx="468.00" cy="682.4" r="8.05"/><circle cx="468.00" cy="685.1" r="8.05"/><circle cx="468.00" cy="785.0" r="8.05"/><circle cx="468.00" cy="775.3" r="8.05"/><circle cx="468.00" cy="770.0" r="8.05"/><circle cx="468.00" cy="765.6" r="8.05"/><circle cx="468.00" cy="762.2" r="8.05"/><circle cx="476.75" cy="447.0" r="8.05"/><circle cx="476.75" cy="456.4" r="8.05"/><circle cx="476.75" cy="464.7" r="8.05"/><circle cx="476.75" cy="466.2" r="8.05"/><circle cx="476.75" cy="471.3" r="8.05"/><circle cx="476.75" cy="477.6" r="8.05"/><circle cx="476.75" cy="520.8" r="8.05"/><circle cx="476.75" cy="526.1" r="8.05"/><circle cx="476.75" cy="533.1" r="8.05"/><circle cx="476.75" cy="537.3" r="8.05"/><circle cx="476.75" cy="541.4" r="8.05"/><circle cx="476.75" cy="545.0" r="8.05"/><circle cx="476.75" cy="550.7" r="8.05"/><circle cx="476.75" cy="555.3" r="8.05"/><circle cx="476.75" cy="558.0" r="8.05"/><circle cx="476.75" cy="563.2" r="8.05"/><circle cx="476.75" cy="564.7" r="8.05"/><circle cx="476.75" cy="572.1" r="8.05"/><circle cx="476.75" cy="575.3" r="8.05"/><circle cx="476.75" cy="581.1" r="8.05"/><circle cx="476.75" cy="585.1" r="8.05"/><circle cx="476.75" cy="587.9" r="8.05"/><circle cx="476.75" cy="591.3" r="8.05"/><circle cx="476.75" cy="599.7" r="8.05"/><circle cx="476.75" cy="770.0" r="8.05"/><circle cx="476.75" cy="760.8" r="8.05"/><circle cx="476.75" cy="755.8" r="8.05"/><circle cx="476.75" cy="751.9" r="8.05"/><circle cx="476.75" cy="749.5" r="8.05"/><circle cx="485.50" cy="500.0" r="8.05"/><circle cx="485.50" cy="526.5" r="8.05"/><circle cx="485.50" cy="534.3" r="8.05"/><circle cx="485.50" cy="537.9" r="8.05"/><circle cx="485.50" cy="544.9" r="8.05"/><circle cx="485.50" cy="549.6" r="8.05"/><circle cx="485.50" cy="553.9" r="8.05"/><circle cx="485.50" cy="559.4" r="8.05"/><circle cx="485.50" cy="565.3" r="8.05"/><circle cx="485.50" cy="574.8" r="8.05"/><circle cx="485.50" cy="578.1" r="8.05"/><circle cx="485.50" cy="582.1" r="8.05"/><circle cx="485.50" cy="591.5" r="8.05"/><circle cx="485.50" cy="597.6" r="8.05"/><circle cx="485.50" cy="600.2" r="8.05"/><circle cx="485.50" cy="604.0" r="8.05"/><circle cx="485.50" cy="609.9" r="8.05"/><circle cx="485.50" cy="614.9" r="8.05"/><circle cx="485.50" cy="769.0" r="8.05"/><circle cx="485.50" cy="771.3" r="8.05"/><circle cx="485.50" cy="774.7" r="8.05"/><circle cx="485.50" cy="777.8" r="8.05"/><circle cx="485.50" cy="800.0" r="8.05"/><circle cx="494.25" cy="512.0" r="8.05"/><circle cx="494.25" cy="525.0" r="8.05"/><circle cx="494.25" cy="518.1" r="8.05"/><circle cx="494.25" cy="525.6" r="8.05"/><circle cx="494.25" cy="533.9" r="8.05"/><circle cx="494.25" cy="540.3" r="8.05"/><circle cx="494.25" cy="601.9" r="8.05"/><circle cx="494.25" cy="606.1" r="8.05"/><circle cx="494.25" cy="613.0" r="8.05"/><circle cx="494.25" cy="622.7" r="8.05"/><circle cx="494.25" cy="623.6" r="8.05"/><circle cx="494.25" cy="631.4" r="8.05"/><circle cx="494.25" cy="637.9" r="8.05"/><circle cx="494.25" cy="644.9" r="8.05"/><circle cx="494.25" cy="646.9" r="8.05"/><circle cx="494.25" cy="653.0" r="8.05"/><circle cx="494.25" cy="658.6" r="8.05"/><circle cx="494.25" cy="665.1" r="8.05"/><circle cx="494.25" cy="671.1" r="8.05"/><circle cx="494.25" cy="679.7" r="8.05"/><circle cx="494.25" cy="760.0" r="8.05"/><circle cx="494.25" cy="752.5" r="8.05"/><circle cx="494.25" cy="746.5" r="8.05"/><circle cx="494.25" cy="743.1" r="8.05"/><circle cx="494.25" cy="741.4" r="8.05"/><circle cx="503.00" cy="501.0" r="8.05"/><circle cx="503.00" cy="532.4" r="8.05"/><circle cx="503.00" cy="537.9" r="8.05"/><circle cx="503.00" cy="540.0" r="8.05"/><circle cx="503.00" cy="547.7" r="8.05"/><circle cx="503.00" cy="558.1" r="8.05"/><circle cx="503.00" cy="564.2" r="8.05"/><circle cx="503.00" cy="571.2" r="8.05"/><circle cx="503.00" cy="578.7" r="8.05"/><circle cx="503.00" cy="580.6" r="8.05"/><circle cx="503.00" cy="586.5" r="8.05"/><circle cx="503.00" cy="593.5" r="8.05"/><circle cx="503.00" cy="602.8" r="8.05"/><circle cx="503.00" cy="610.7" r="8.05"/><circle cx="503.00" cy="619.2" r="8.05"/><circle cx="503.00" cy="624.5" r="8.05"/><circle cx="503.00" cy="630.8" r="8.05"/><circle cx="503.00" cy="638.4" r="8.05"/><circle cx="503.00" cy="642.3" r="8.05"/><circle cx="503.00" cy="647.8" r="8.05"/><circle cx="503.00" cy="650.2" r="8.05"/><circle cx="503.00" cy="658.9" r="8.05"/><circle cx="503.00" cy="661.2" r="8.05"/><circle cx="503.00" cy="669.6" r="8.05"/><circle cx="503.00" cy="673.2" r="8.05"/><circle cx="503.00" cy="676.5" r="8.05"/><circle cx="503.00" cy="680.6" r="8.05"/><circle cx="503.00" cy="775.0" r="8.05"/><circle cx="503.00" cy="765.7" r="8.05"/><circle cx="503.00" cy="760.9" r="8.05"/><circle cx="503.00" cy="755.7" r="8.05"/><circle cx="503.00" cy="752.1" r="8.05"/><circle cx="511.75" cy="361.0" r="8.05"/><circle cx="511.75" cy="442.0" r="8.05"/><circle cx="511.75" cy="453.3" r="8.05"/><circle cx="511.75" cy="456.1" r="8.05"/><circle cx="511.75" cy="460.7" r="8.05"/><circle cx="511.75" cy="462.0" r="8.05"/><circle cx="511.75" cy="465.4" r="8.05"/><circle cx="511.75" cy="468.4" r="8.05"/><circle cx="511.75" cy="472.4" r="8.05"/><circle cx="511.75" cy="474.1" r="8.05"/><circle cx="511.75" cy="477.4" r="8.05"/><circle cx="511.75" cy="478.9" r="8.05"/><circle cx="511.75" cy="480.9" r="8.05"/><circle cx="511.75" cy="483.6" r="8.05"/><circle cx="511.75" cy="488.1" r="8.05"/><circle cx="511.75" cy="490.0" r="8.05"/><circle cx="511.75" cy="491.6" r="8.05"/><circle cx="511.75" cy="493.4" r="8.05"/><circle cx="511.75" cy="497.3" r="8.05"/><circle cx="511.75" cy="500.4" r="8.05"/><circle cx="511.75" cy="502.3" r="8.05"/><circle cx="511.75" cy="504.5" r="8.05"/><circle cx="511.75" cy="508.2" r="8.05"/><circle cx="511.75" cy="511.5" r="8.05"/><circle cx="511.75" cy="512.3" r="8.05"/><circle cx="511.75" cy="514.4" r="8.05"/><circle cx="511.75" cy="517.8" r="8.05"/><circle cx="511.75" cy="520.6" r="8.05"/><circle cx="511.75" cy="523.9" r="8.05"/><circle cx="511.75" cy="525.3" r="8.05"/><circle cx="511.75" cy="529.5" r="8.05"/><circle cx="511.75" cy="533.0" r="8.05"/><circle cx="511.75" cy="536.0" r="8.05"/><circle cx="511.75" cy="538.8" r="8.05"/><circle cx="511.75" cy="545.9" r="8.05"/><circle cx="511.75" cy="547.2" r="8.05"/><circle cx="511.75" cy="772.0" r="8.05"/><circle cx="511.75" cy="762.3" r="8.05"/><circle cx="511.75" cy="757.6" r="8.05"/><circle cx="511.75" cy="754.9" r="8.05"/><circle cx="511.75" cy="750.6" r="8.05"/><circle cx="520.50" cy="499.6" r="8.05"/><circle cx="520.50" cy="504.0" r="8.05"/><circle cx="520.50" cy="509.5" r="8.05"/><circle cx="520.50" cy="517.8" r="8.05"/><circle cx="520.50" cy="527.3" r="8.05"/><circle cx="520.50" cy="537.3" r="8.05"/><circle cx="520.50" cy="775.0" r="8.05"/><circle cx="520.50" cy="763.8" r="8.05"/><circle cx="520.50" cy="759.0" r="8.05"/><circle cx="520.50" cy="754.2" r="8.05"/><circle cx="520.50" cy="751.9" r="8.05"/><circle cx="529.25" cy="464.8" r="8.05"/><circle cx="529.25" cy="469.8" r="8.05"/><circle cx="529.25" cy="475.2" r="8.05"/><circle cx="529.25" cy="480.6" r="8.05"/><circle cx="529.25" cy="486.6" r="8.05"/><circle cx="529.25" cy="490.5" r="8.05"/><circle cx="529.25" cy="493.9" r="8.05"/><circle cx="529.25" cy="785.0" r="8.05"/><circle cx="529.25" cy="776.3" r="8.05"/><circle cx="529.25" cy="770.1" r="8.05"/><circle cx="529.25" cy="765.9" r="8.05"/><circle cx="529.25" cy="763.9" r="8.05"/><circle cx="538.00" cy="447.0" r="8.05"/><circle cx="538.00" cy="455.2" r="8.05"/><circle cx="538.00" cy="463.3" r="8.05"/><circle cx="538.00" cy="466.9" r="8.05"/><circle cx="538.00" cy="772.0" r="8.05"/><circle cx="538.00" cy="762.5" r="8.05"/><circle cx="538.00" cy="757.5" r="8.05"/><circle cx="538.00" cy="753.3" r="8.05"/><circle cx="538.00" cy="750.6" r="8.05"/><circle cx="546.75" cy="451.8" r="8.05"/><circle cx="546.75" cy="459.8" r="8.05"/><circle cx="546.75" cy="460.6" r="8.05"/><circle cx="546.75" cy="782.0" r="8.05"/><circle cx="546.75" cy="770.1" r="8.05"/><circle cx="546.75" cy="764.6" r="8.05"/><circle cx="546.75" cy="760.8" r="8.05"/><circle cx="546.75" cy="756.6" r="8.05"/><circle cx="555.50" cy="445.0" r="8.05"/><circle cx="555.50" cy="452.2" r="8.05"/><circle cx="555.50" cy="456.9" r="8.05"/><circle cx="555.50" cy="459.9" r="8.05"/><circle cx="555.50" cy="787.0" r="8.05"/><circle cx="555.50" cy="775.9" r="8.05"/><circle cx="555.50" cy="770.9" r="8.05"/><circle cx="555.50" cy="767.6" r="8.05"/><circle cx="555.50" cy="762.1" r="8.05"/><circle cx="564.25" cy="254.5" r="8.05"/><circle cx="564.25" cy="327.0" r="8.05"/><circle cx="564.25" cy="329.4" r="8.05"/><circle cx="564.25" cy="330.1" r="8.05"/><circle cx="564.25" cy="332.6" r="8.05"/><circle cx="564.25" cy="344.0" r="8.05"/><circle cx="564.25" cy="364.9" r="8.05"/><circle cx="564.25" cy="365.3" r="8.05"/><circle cx="564.25" cy="366.7" r="8.05"/><circle cx="564.25" cy="376.9" r="8.05"/><circle cx="564.25" cy="377.3" r="8.05"/><circle cx="564.25" cy="407.0" r="8.05"/><circle cx="564.25" cy="768.0" r="8.05"/><circle cx="564.25" cy="758.7" r="8.05"/><circle cx="564.25" cy="753.0" r="8.05"/><circle cx="564.25" cy="749.9" r="8.05"/><circle cx="564.25" cy="745.6" r="8.05"/><circle cx="573.00" cy="290.5" r="8.05"/><circle cx="573.00" cy="325.0" r="8.05"/><circle cx="573.00" cy="417.0" r="8.05"/><circle cx="573.00" cy="437.1" r="8.05"/><circle cx="573.00" cy="442.7" r="8.05"/><circle cx="573.00" cy="452.9" r="8.05"/><circle cx="573.00" cy="453.5" r="8.05"/><circle cx="573.00" cy="462.9" r="8.05"/><circle cx="573.00" cy="472.6" r="8.05"/><circle cx="573.00" cy="484.1" r="8.05"/><circle cx="573.00" cy="491.9" r="8.05"/><circle cx="573.00" cy="495.2" r="8.05"/><circle cx="573.00" cy="769.0" r="8.05"/><circle cx="573.00" cy="759.7" r="8.05"/><circle cx="573.00" cy="755.1" r="8.05"/><circle cx="573.00" cy="752.2" r="8.05"/><circle cx="573.00" cy="747.4" r="8.05"/><circle cx="581.75" cy="327.2" r="8.05"/><circle cx="581.75" cy="329.8" r="8.05"/><circle cx="581.75" cy="332.8" r="8.05"/><circle cx="581.75" cy="335.4" r="8.05"/><circle cx="581.75" cy="360.0" r="8.05"/><circle cx="581.75" cy="390.0" r="8.05"/><circle cx="581.75" cy="416.0" r="8.05"/><circle cx="581.75" cy="430.0" r="8.05"/><circle cx="581.75" cy="439.6" r="8.05"/><circle cx="581.75" cy="440.6" r="8.05"/><circle cx="581.75" cy="444.3" r="8.05"/><circle cx="581.75" cy="752.0" r="8.05"/><circle cx="581.75" cy="740.2" r="8.05"/><circle cx="581.75" cy="734.0" r="8.05"/><circle cx="581.75" cy="729.2" r="8.05"/><circle cx="581.75" cy="726.1" r="8.05"/><circle cx="590.50" cy="345.0" r="8.05"/><circle cx="590.50" cy="447.8" r="8.05"/><circle cx="590.50" cy="455.1" r="8.05"/><circle cx="590.50" cy="463.9" r="8.05"/><circle cx="590.50" cy="466.1" r="8.05"/><circle cx="590.50" cy="472.7" r="8.05"/><circle cx="590.50" cy="487.4" r="8.05"/><circle cx="590.50" cy="493.9" r="8.05"/><circle cx="590.50" cy="499.5" r="8.05"/><circle cx="590.50" cy="502.9" r="8.05"/><circle cx="590.50" cy="506.5" r="8.05"/><circle cx="590.50" cy="512.6" r="8.05"/><circle cx="590.50" cy="520.1" r="8.05"/><circle cx="590.50" cy="526.7" r="8.05"/><circle cx="590.50" cy="533.4" r="8.05"/><circle cx="590.50" cy="559.9" r="8.05"/><circle cx="590.50" cy="564.7" r="8.05"/><circle cx="590.50" cy="567.4" r="8.05"/><circle cx="590.50" cy="577.4" r="8.05"/><circle cx="590.50" cy="580.0" r="8.05"/><circle cx="590.50" cy="587.5" r="8.05"/><circle cx="590.50" cy="750.0" r="8.05"/><circle cx="590.50" cy="740.0" r="8.05"/><circle cx="590.50" cy="733.6" r="8.05"/><circle cx="590.50" cy="729.3" r="8.05"/><circle cx="590.50" cy="725.5" r="8.05"/><circle cx="599.25" cy="418.0" r="8.05"/><circle cx="599.25" cy="455.5" r="8.05"/><circle cx="599.25" cy="459.9" r="8.05"/><circle cx="599.25" cy="464.5" r="8.05"/><circle cx="599.25" cy="471.2" r="8.05"/><circle cx="599.25" cy="482.4" r="8.05"/><circle cx="599.25" cy="486.3" r="8.05"/><circle cx="599.25" cy="491.7" r="8.05"/><circle cx="599.25" cy="503.6" r="8.05"/><circle cx="599.25" cy="509.9" r="8.05"/><circle cx="599.25" cy="519.9" r="8.05"/><circle cx="599.25" cy="520.8" r="8.05"/><circle cx="599.25" cy="531.1" r="8.05"/><circle cx="599.25" cy="566.5" r="8.05"/><circle cx="599.25" cy="572.1" r="8.05"/><circle cx="599.25" cy="578.0" r="8.05"/><circle cx="599.25" cy="578.7" r="8.05"/><circle cx="599.25" cy="585.6" r="8.05"/><circle cx="599.25" cy="590.2" r="8.05"/><circle cx="599.25" cy="753.0" r="8.05"/><circle cx="599.25" cy="743.5" r="8.05"/><circle cx="599.25" cy="737.3" r="8.05"/><circle cx="599.25" cy="733.7" r="8.05"/><circle cx="599.25" cy="728.7" r="8.05"/><circle cx="608.00" cy="477.0" r="8.05"/><circle cx="608.00" cy="493.4" r="8.05"/><circle cx="608.00" cy="499.4" r="8.05"/><circle cx="608.00" cy="510.8" r="8.05"/><circle cx="608.00" cy="519.6" r="8.05"/><circle cx="608.00" cy="520.8" r="8.05"/><circle cx="608.00" cy="532.0" r="8.05"/><circle cx="608.00" cy="564.8" r="8.05"/><circle cx="608.00" cy="569.5" r="8.05"/><circle cx="608.00" cy="578.4" r="8.05"/><circle cx="608.00" cy="584.4" r="8.05"/><circle cx="608.00" cy="592.7" r="8.05"/><circle cx="608.00" cy="600.9" r="8.05"/><circle cx="608.00" cy="611.3" r="8.05"/><circle cx="608.00" cy="619.5" r="8.05"/><circle cx="608.00" cy="623.8" r="8.05"/><circle cx="608.00" cy="639.4" r="8.05"/><circle cx="608.00" cy="639.8" r="8.05"/><circle cx="608.00" cy="762.0" r="8.05"/><circle cx="608.00" cy="751.4" r="8.05"/><circle cx="608.00" cy="746.5" r="8.05"/><circle cx="608.00" cy="742.1" r="8.05"/><circle cx="608.00" cy="739.6" r="8.05"/><circle cx="616.75" cy="445.0" r="8.05"/><circle cx="616.75" cy="450.4" r="8.05"/><circle cx="616.75" cy="456.6" r="8.05"/><circle cx="616.75" cy="473.5" r="8.05"/><circle cx="616.75" cy="483.6" r="8.05"/><circle cx="616.75" cy="493.1" r="8.05"/><circle cx="616.75" cy="497.0" r="8.05"/><circle cx="616.75" cy="506.4" r="8.05"/><circle cx="616.75" cy="519.8" r="8.05"/><circle cx="616.75" cy="526.1" r="8.05"/><circle cx="616.75" cy="533.7" r="8.05"/><circle cx="616.75" cy="542.7" r="8.05"/><circle cx="616.75" cy="557.1" r="8.05"/><circle cx="616.75" cy="560.2" r="8.05"/><circle cx="616.75" cy="571.2" r="8.05"/><circle cx="616.75" cy="597.3" r="8.05"/><circle cx="616.75" cy="604.1" r="8.05"/><circle cx="616.75" cy="613.4" r="8.05"/><circle cx="616.75" cy="620.7" r="8.05"/><circle cx="616.75" cy="623.1" r="8.05"/><circle cx="616.75" cy="628.4" r="8.05"/><circle cx="616.75" cy="638.3" r="8.05"/><circle cx="616.75" cy="762.0" r="8.05"/><circle cx="616.75" cy="751.0" r="8.05"/><circle cx="616.75" cy="747.6" r="8.05"/><circle cx="616.75" cy="742.5" r="8.05"/><circle cx="616.75" cy="739.6" r="8.05"/><circle cx="625.50" cy="462.0" r="8.05"/><circle cx="625.50" cy="478.3" r="8.05"/><circle cx="625.50" cy="480.5" r="8.05"/><circle cx="625.50" cy="483.1" r="8.05"/><circle cx="625.50" cy="486.3" r="8.05"/><circle cx="625.50" cy="568.2" r="8.05"/><circle cx="625.50" cy="574.6" r="8.05"/><circle cx="625.50" cy="582.0" r="8.05"/><circle cx="625.50" cy="583.0" r="8.05"/><circle cx="625.50" cy="592.0" r="8.05"/><circle cx="625.50" cy="596.3" r="8.05"/><circle cx="625.50" cy="748.0" r="8.05"/><circle cx="625.50" cy="737.7" r="8.05"/><circle cx="625.50" cy="733.1" r="8.05"/><circle cx="625.50" cy="729.5" r="8.05"/><circle cx="625.50" cy="726.9" r="8.05"/><circle cx="634.25" cy="477.0" r="8.05"/><circle cx="634.25" cy="503.7" r="8.05"/><circle cx="634.25" cy="513.5" r="8.05"/><circle cx="634.25" cy="522.3" r="8.05"/><circle cx="634.25" cy="524.0" r="8.05"/><circle cx="634.25" cy="530.9" r="8.05"/><circle cx="634.25" cy="544.6" r="8.05"/><circle cx="634.25" cy="552.3" r="8.05"/><circle cx="634.25" cy="556.1" r="8.05"/><circle cx="634.25" cy="560.2" r="8.05"/><circle cx="634.25" cy="566.9" r="8.05"/><circle cx="634.25" cy="568.5" r="8.05"/><circle cx="634.25" cy="573.9" r="8.05"/><circle cx="634.25" cy="576.5" r="8.05"/><circle cx="634.25" cy="580.8" r="8.05"/><circle cx="634.25" cy="582.0" r="8.05"/><circle cx="634.25" cy="587.8" r="8.05"/><circle cx="634.25" cy="589.4" r="8.05"/><circle cx="634.25" cy="593.6" r="8.05"/><circle cx="634.25" cy="598.7" r="8.05"/><circle cx="634.25" cy="602.2" r="8.05"/><circle cx="634.25" cy="603.5" r="8.05"/><circle cx="634.25" cy="607.2" r="8.05"/><circle cx="634.25" cy="745.0" r="8.05"/><circle cx="634.25" cy="735.9" r="8.05"/><circle cx="634.25" cy="730.9" r="8.05"/><circle cx="634.25" cy="726.6" r="8.05"/><circle cx="634.25" cy="723.5" r="8.05"/><circle cx="643.00" cy="514.8" r="8.05"/><circle cx="643.00" cy="522.6" r="8.05"/><circle cx="643.00" cy="523.6" r="8.05"/><circle cx="643.00" cy="538.4" r="8.05"/><circle cx="643.00" cy="545.7" r="8.05"/><circle cx="643.00" cy="547.5" r="8.05"/><circle cx="643.00" cy="558.5" r="8.05"/><circle cx="643.00" cy="560.2" r="8.05"/><circle cx="643.00" cy="569.2" r="8.05"/><circle cx="643.00" cy="575.0" r="8.05"/><circle cx="643.00" cy="581.6" r="8.05"/><circle cx="643.00" cy="585.8" r="8.05"/><circle cx="643.00" cy="591.3" r="8.05"/><circle cx="643.00" cy="595.0" r="8.05"/><circle cx="643.00" cy="597.6" r="8.05"/><circle cx="643.00" cy="601.5" r="8.05"/><circle cx="643.00" cy="604.0" r="8.05"/><circle cx="643.00" cy="607.1" r="8.05"/><circle cx="643.00" cy="608.9" r="8.05"/><circle cx="643.00" cy="760.0" r="8.05"/><circle cx="643.00" cy="749.5" r="8.05"/><circle cx="643.00" cy="743.6" r="8.05"/><circle cx="643.00" cy="740.3" r="8.05"/><circle cx="643.00" cy="736.6" r="8.05"/><circle cx="651.75" cy="518.2" r="8.05"/><circle cx="651.75" cy="523.1" r="8.05"/><circle cx="651.75" cy="532.0" r="8.05"/><circle cx="651.75" cy="536.4" r="8.05"/><circle cx="651.75" cy="543.4" r="8.05"/><circle cx="651.75" cy="552.3" r="8.05"/><circle cx="651.75" cy="556.9" r="8.05"/><circle cx="651.75" cy="566.2" r="8.05"/><circle cx="651.75" cy="571.7" r="8.05"/><circle cx="651.75" cy="573.5" r="8.05"/><circle cx="651.75" cy="578.8" r="8.05"/><circle cx="651.75" cy="580.3" r="8.05"/><circle cx="651.75" cy="585.8" r="8.05"/><circle cx="651.75" cy="589.3" r="8.05"/><circle cx="651.75" cy="591.7" r="8.05"/><circle cx="651.75" cy="593.5" r="8.05"/><circle cx="651.75" cy="598.3" r="8.05"/><circle cx="651.75" cy="750.0" r="8.05"/><circle cx="651.75" cy="741.3" r="8.05"/><circle cx="651.75" cy="734.8" r="8.05"/><circle cx="651.75" cy="732.2" r="8.05"/><circle cx="651.75" cy="729.0" r="8.05"/><circle cx="660.50" cy="350.0" r="8.05"/><circle cx="660.50" cy="385.0" r="8.05"/><circle cx="660.50" cy="423.0" r="8.05"/><circle cx="660.50" cy="440.0" r="8.05"/><circle cx="660.50" cy="440.5" r="8.05"/><circle cx="660.50" cy="490.0" r="8.05"/><circle cx="660.50" cy="506.5" r="8.05"/><circle cx="660.50" cy="508.3" r="8.05"/><circle cx="660.50" cy="519.9" r="8.05"/><circle cx="660.50" cy="528.1" r="8.05"/><circle cx="660.50" cy="529.0" r="8.05"/><circle cx="660.50" cy="538.2" r="8.05"/><circle cx="660.50" cy="548.3" r="8.05"/><circle cx="660.50" cy="767.0" r="8.05"/><circle cx="660.50" cy="757.3" r="8.05"/><circle cx="660.50" cy="750.7" r="8.05"/><circle cx="660.50" cy="747.4" r="8.05"/><circle cx="660.50" cy="742.3" r="8.05"/><circle cx="669.25" cy="265.5" r="8.05"/><circle cx="669.25" cy="295.0" r="8.05"/><circle cx="669.25" cy="310.0" r="8.05"/><circle cx="669.25" cy="354.0" r="8.05"/><circle cx="669.25" cy="364.0" r="8.05"/><circle cx="669.25" cy="374.0" r="8.05"/><circle cx="669.25" cy="389.6" r="8.05"/><circle cx="669.25" cy="398.7" r="8.05"/><circle cx="669.25" cy="404.5" r="8.05"/><circle cx="669.25" cy="409.8" r="8.05"/><circle cx="669.25" cy="419.6" r="8.05"/><circle cx="669.25" cy="422.4" r="8.05"/><circle cx="669.25" cy="423.1" r="8.05"/><circle cx="669.25" cy="433.0" r="8.05"/><circle cx="669.25" cy="440.0" r="8.05"/><circle cx="669.25" cy="477.1" r="8.05"/><circle cx="669.25" cy="481.5" r="8.05"/><circle cx="669.25" cy="484.4" r="8.05"/><circle cx="669.25" cy="490.5" r="8.05"/><circle cx="669.25" cy="493.2" r="8.05"/><circle cx="669.25" cy="504.4" r="8.05"/><circle cx="669.25" cy="514.1" r="8.05"/><circle cx="669.25" cy="515.8" r="8.05"/><circle cx="669.25" cy="529.9" r="8.05"/><circle cx="669.25" cy="534.7" r="8.05"/><circle cx="669.25" cy="540.5" r="8.05"/><circle cx="669.25" cy="551.0" r="8.05"/><circle cx="669.25" cy="554.5" r="8.05"/><circle cx="669.25" cy="756.0" r="8.05"/><circle cx="669.25" cy="746.6" r="8.05"/><circle cx="669.25" cy="741.2" r="8.05"/><circle cx="669.25" cy="738.0" r="8.05"/><circle cx="669.25" cy="733.9" r="8.05"/><circle cx="678.00" cy="290.0" r="8.05"/><circle cx="678.00" cy="302.0" r="8.05"/><circle cx="678.00" cy="322.0" r="8.05"/><circle cx="678.00" cy="342.0" r="8.05"/><circle cx="678.00" cy="343.1" r="8.05"/><circle cx="678.00" cy="362.0" r="8.05"/><circle cx="678.00" cy="375.0" r="8.05"/><circle cx="678.00" cy="401.8" r="8.05"/><circle cx="678.00" cy="414.4" r="8.05"/><circle cx="678.00" cy="422.0" r="8.05"/><circle cx="678.00" cy="470.0" r="8.05"/><circle cx="678.00" cy="479.3" r="8.05"/><circle cx="678.00" cy="489.3" r="8.05"/><circle cx="678.00" cy="502.5" r="8.05"/><circle cx="678.00" cy="509.9" r="8.05"/><circle cx="678.00" cy="519.6" r="8.05"/><circle cx="678.00" cy="532.1" r="8.05"/><circle cx="678.00" cy="534.2" r="8.05"/><circle cx="678.00" cy="544.0" r="8.05"/><circle cx="678.00" cy="556.9" r="8.05"/><circle cx="678.00" cy="560.1" r="8.05"/><circle cx="678.00" cy="563.2" r="8.05"/><circle cx="678.00" cy="567.5" r="8.05"/><circle cx="678.00" cy="569.9" r="8.05"/><circle cx="678.00" cy="573.9" r="8.05"/><circle cx="678.00" cy="576.6" r="8.05"/><circle cx="678.00" cy="580.9" r="8.05"/><circle cx="678.00" cy="584.1" r="8.05"/><circle cx="678.00" cy="586.1" r="8.05"/><circle cx="678.00" cy="590.6" r="8.05"/><circle cx="678.00" cy="593.3" r="8.05"/><circle cx="678.00" cy="747.0" r="8.05"/><circle cx="678.00" cy="738.7" r="8.05"/><circle cx="678.00" cy="732.6" r="8.05"/><circle cx="678.00" cy="728.6" r="8.05"/><circle cx="678.00" cy="725.2" r="8.05"/><circle cx="686.75" cy="245.5" r="8.05"/><circle cx="686.75" cy="285.0" r="8.05"/><circle cx="686.75" cy="296.0" r="8.05"/><circle cx="686.75" cy="326.0" r="8.05"/><circle cx="686.75" cy="340.0" r="8.05"/><circle cx="686.75" cy="362.0" r="8.05"/><circle cx="686.75" cy="396.0" r="8.05"/><circle cx="686.75" cy="416.0" r="8.05"/><circle cx="686.75" cy="473.0" r="8.05"/><circle cx="686.75" cy="484.0" r="8.05"/><circle cx="686.75" cy="488.5" r="8.05"/><circle cx="686.75" cy="493.4" r="8.05"/><circle cx="686.75" cy="496.0" r="8.05"/><circle cx="686.75" cy="497.7" r="8.05"/><circle cx="686.75" cy="503.1" r="8.05"/><circle cx="686.75" cy="503.6" r="8.05"/><circle cx="686.75" cy="508.5" r="8.05"/><circle cx="686.75" cy="512.5" r="8.05"/><circle cx="686.75" cy="517.6" r="8.05"/><circle cx="686.75" cy="522.6" r="8.05"/><circle cx="686.75" cy="533.1" r="8.05"/><circle cx="686.75" cy="534.5" r="8.05"/><circle cx="686.75" cy="543.9" r="8.05"/><circle cx="686.75" cy="552.4" r="8.05"/><circle cx="686.75" cy="553.6" r="8.05"/><circle cx="686.75" cy="560.1" r="8.05"/><circle cx="686.75" cy="566.9" r="8.05"/><circle cx="686.75" cy="569.7" r="8.05"/><circle cx="686.75" cy="573.3" r="8.05"/><circle cx="686.75" cy="576.9" r="8.05"/><circle cx="686.75" cy="578.0" r="8.05"/><circle cx="686.75" cy="581.6" r="8.05"/><circle cx="686.75" cy="584.7" r="8.05"/><circle cx="686.75" cy="587.0" r="8.05"/><circle cx="686.75" cy="749.0" r="8.05"/><circle cx="686.75" cy="740.4" r="8.05"/><circle cx="686.75" cy="735.6" r="8.05"/><circle cx="686.75" cy="730.3" r="8.05"/><circle cx="686.75" cy="728.7" r="8.05"/><circle cx="695.50" cy="290.0" r="8.05"/><circle cx="695.50" cy="302.0" r="8.05"/><circle cx="695.50" cy="341.9" r="8.05"/><circle cx="695.50" cy="343.6" r="8.05"/><circle cx="695.50" cy="365.0" r="8.05"/><circle cx="695.50" cy="377.0" r="8.05"/><circle cx="695.50" cy="426.0" r="8.05"/><circle cx="695.50" cy="464.0" r="8.05"/><circle cx="695.50" cy="478.4" r="8.05"/><circle cx="695.50" cy="484.5" r="8.05"/><circle cx="695.50" cy="488.6" r="8.05"/><circle cx="695.50" cy="493.5" r="8.05"/><circle cx="695.50" cy="497.3" r="8.05"/><circle cx="695.50" cy="499.6" r="8.05"/><circle cx="695.50" cy="505.2" r="8.05"/><circle cx="695.50" cy="509.0" r="8.05"/><circle cx="695.50" cy="514.8" r="8.05"/><circle cx="695.50" cy="517.9" r="8.05"/><circle cx="695.50" cy="521.8" r="8.05"/><circle cx="695.50" cy="530.9" r="8.05"/><circle cx="695.50" cy="539.8" r="8.05"/><circle cx="695.50" cy="541.4" r="8.05"/><circle cx="695.50" cy="552.5" r="8.05"/><circle cx="695.50" cy="553.4" r="8.05"/><circle cx="695.50" cy="560.9" r="8.05"/><circle cx="695.50" cy="564.1" r="8.05"/><circle cx="695.50" cy="569.1" r="8.05"/><circle cx="695.50" cy="573.1" r="8.05"/><circle cx="695.50" cy="575.8" r="8.05"/><circle cx="695.50" cy="577.8" r="8.05"/><circle cx="695.50" cy="582.9" r="8.05"/><circle cx="695.50" cy="584.4" r="8.05"/><circle cx="695.50" cy="587.5" r="8.05"/><circle cx="695.50" cy="745.0" r="8.05"/><circle cx="695.50" cy="737.0" r="8.05"/><circle cx="695.50" cy="732.9" r="8.05"/><circle cx="695.50" cy="729.3" r="8.05"/><circle cx="695.50" cy="727.0" r="8.05"/><circle cx="704.25" cy="300.0" r="8.05"/><circle cx="704.25" cy="372.0" r="8.05"/><circle cx="704.25" cy="390.0" r="8.05"/><circle cx="704.25" cy="426.0" r="8.05"/><circle cx="704.25" cy="483.2" r="8.05"/><circle cx="704.25" cy="492.5" r="8.05"/><circle cx="704.25" cy="498.7" r="8.05"/><circle cx="704.25" cy="504.1" r="8.05"/><circle cx="704.25" cy="510.6" r="8.05"/><circle cx="704.25" cy="520.9" r="8.05"/><circle cx="704.25" cy="524.2" r="8.05"/><circle cx="704.25" cy="537.5" r="8.05"/><circle cx="704.25" cy="539.2" r="8.05"/><circle cx="704.25" cy="545.7" r="8.05"/><circle cx="704.25" cy="553.5" r="8.05"/><circle cx="704.25" cy="563.1" r="8.05"/><circle cx="704.25" cy="564.5" r="8.05"/><circle cx="704.25" cy="567.1" r="8.05"/><circle cx="704.25" cy="570.1" r="8.05"/><circle cx="704.25" cy="573.5" r="8.05"/><circle cx="704.25" cy="579.0" r="8.05"/><circle cx="704.25" cy="582.1" r="8.05"/><circle cx="704.25" cy="585.7" r="8.05"/><circle cx="704.25" cy="589.1" r="8.05"/><circle cx="704.25" cy="754.0" r="8.05"/><circle cx="704.25" cy="745.0" r="8.05"/><circle cx="704.25" cy="739.9" r="8.05"/><circle cx="704.25" cy="737.0" r="8.05"/><circle cx="704.25" cy="733.6" r="8.05"/><circle cx="713.00" cy="340.0" r="8.05"/><circle cx="713.00" cy="365.0" r="8.05"/><circle cx="713.00" cy="388.9" r="8.05"/><circle cx="713.00" cy="389.9" r="8.05"/><circle cx="713.00" cy="390.9" r="8.05"/><circle cx="713.00" cy="391.1" r="8.05"/><circle cx="713.00" cy="400.8" r="8.05"/><circle cx="713.00" cy="404.4" r="8.05"/><circle cx="713.00" cy="408.1" r="8.05"/><circle cx="713.00" cy="415.4" r="8.05"/><circle cx="713.00" cy="419.2" r="8.05"/><circle cx="713.00" cy="422.5" r="8.05"/><circle cx="713.00" cy="427.3" r="8.05"/><circle cx="713.00" cy="430.5" r="8.05"/><circle cx="713.00" cy="750.0" r="8.05"/><circle cx="713.00" cy="740.9" r="8.05"/><circle cx="713.00" cy="736.7" r="8.05"/><circle cx="713.00" cy="734.5" r="8.05"/><circle cx="713.00" cy="730.4" r="8.05"/><circle cx="721.75" cy="442.3" r="8.05"/><circle cx="721.75" cy="450.2" r="8.05"/><circle cx="721.75" cy="454.4" r="8.05"/><circle cx="721.75" cy="463.3" r="8.05"/><circle cx="721.75" cy="470.6" r="8.05"/><circle cx="721.75" cy="480.8" r="8.05"/><circle cx="721.75" cy="485.5" r="8.05"/><circle cx="721.75" cy="756.0" r="8.05"/><circle cx="721.75" cy="746.9" r="8.05"/><circle cx="721.75" cy="740.8" r="8.05"/><circle cx="721.75" cy="737.3" r="8.05"/><circle cx="721.75" cy="733.2" r="8.05"/><circle cx="730.50" cy="300.0" r="8.05"/><circle cx="730.50" cy="345.7" r="8.05"/><circle cx="730.50" cy="347.4" r="8.05"/><circle cx="730.50" cy="349.6" r="8.05"/><circle cx="730.50" cy="361.8" r="8.05"/><circle cx="730.50" cy="362.2" r="8.05"/><circle cx="730.50" cy="418.8" r="8.05"/><circle cx="730.50" cy="421.1" r="8.05"/><circle cx="730.50" cy="426.5" r="8.05"/><circle cx="730.50" cy="430.5" r="8.05"/><circle cx="730.50" cy="440.9" r="8.05"/><circle cx="730.50" cy="443.0" r="8.05"/><circle cx="730.50" cy="448.0" r="8.05"/><circle cx="730.50" cy="455.2" r="8.05"/><circle cx="730.50" cy="464.6" r="8.05"/><circle cx="730.50" cy="471.9" r="8.05"/><circle cx="730.50" cy="472.0" r="8.05"/><circle cx="730.50" cy="480.9" r="8.05"/><circle cx="730.50" cy="486.9" r="8.05"/><circle cx="730.50" cy="493.1" r="8.05"/><circle cx="730.50" cy="494.7" r="8.05"/><circle cx="730.50" cy="499.8" r="8.05"/><circle cx="730.50" cy="503.1" r="8.05"/><circle cx="730.50" cy="509.0" r="8.05"/><circle cx="730.50" cy="510.7" r="8.05"/><circle cx="730.50" cy="517.3" r="8.05"/><circle cx="730.50" cy="518.6" r="8.05"/><circle cx="730.50" cy="522.3" r="8.05"/><circle cx="730.50" cy="528.1" r="8.05"/><circle cx="730.50" cy="531.2" r="8.05"/><circle cx="730.50" cy="533.6" r="8.05"/><circle cx="730.50" cy="539.6" r="8.05"/><circle cx="730.50" cy="541.4" r="8.05"/><circle cx="730.50" cy="756.0" r="8.05"/><circle cx="730.50" cy="746.4" r="8.05"/><circle cx="730.50" cy="741.4" r="8.05"/><circle cx="730.50" cy="736.9" r="8.05"/><circle cx="730.50" cy="732.7" r="8.05"/><circle cx="739.25" cy="239.0" r="8.05"/><circle cx="739.25" cy="249.0" r="8.05"/><circle cx="739.25" cy="279.5" r="8.05"/><circle cx="739.25" cy="349.5" r="8.05"/><circle cx="739.25" cy="350.5" r="8.05"/><circle cx="739.25" cy="349.4" r="8.05"/><circle cx="739.25" cy="362.0" r="8.05"/><circle cx="739.25" cy="385.5" r="8.05"/><circle cx="739.25" cy="388.3" r="8.05"/><circle cx="739.25" cy="389.4" r="8.05"/><circle cx="739.25" cy="390.9" r="8.05"/><circle cx="739.25" cy="751.0" r="8.05"/><circle cx="739.25" cy="740.9" r="8.05"/><circle cx="739.25" cy="736.4" r="8.05"/><circle cx="739.25" cy="732.6" r="8.05"/><circle cx="739.25" cy="729.5" r="8.05"/><circle cx="748.00" cy="249.0" r="8.05"/><circle cx="748.00" cy="267.0" r="8.05"/><circle cx="748.00" cy="305.9" r="8.05"/><circle cx="748.00" cy="308.3" r="8.05"/><circle cx="748.00" cy="310.4" r="8.05"/><circle cx="748.00" cy="314.6" r="8.05"/><circle cx="748.00" cy="350.2" r="8.05"/><circle cx="748.00" cy="350.3" r="8.05"/><circle cx="748.00" cy="370.0" r="8.05"/><circle cx="748.00" cy="403.3" r="8.05"/><circle cx="748.00" cy="413.2" r="8.05"/><circle cx="748.00" cy="419.2" r="8.05"/><circle cx="748.00" cy="423.3" r="8.05"/><circle cx="748.00" cy="433.3" r="8.05"/><circle cx="748.00" cy="443.9" r="8.05"/><circle cx="748.00" cy="446.5" r="8.05"/><circle cx="748.00" cy="453.6" r="8.05"/><circle cx="748.00" cy="461.9" r="8.05"/><circle cx="748.00" cy="472.3" r="8.05"/><circle cx="748.00" cy="480.8" r="8.05"/><circle cx="748.00" cy="735.0" r="8.05"/><circle cx="748.00" cy="723.9" r="8.05"/><circle cx="748.00" cy="718.7" r="8.05"/><circle cx="748.00" cy="714.5" r="8.05"/><circle cx="748.00" cy="711.0" r="8.05"/><circle cx="756.75" cy="362.0" r="8.05"/><circle cx="756.75" cy="377.5" r="8.05"/><circle cx="756.75" cy="383.9" r="8.05"/><circle cx="756.75" cy="397.3" r="8.05"/><circle cx="756.75" cy="403.0" r="8.05"/><circle cx="756.75" cy="405.8" r="8.05"/><circle cx="756.75" cy="419.7" r="8.05"/><circle cx="756.75" cy="420.8" r="8.05"/><circle cx="756.75" cy="430.4" r="8.05"/><circle cx="756.75" cy="474.9" r="8.05"/><circle cx="756.75" cy="479.0" r="8.05"/><circle cx="756.75" cy="483.7" r="8.05"/><circle cx="756.75" cy="487.2" r="8.05"/><circle cx="756.75" cy="732.0" r="8.05"/><circle cx="756.75" cy="722.3" r="8.05"/><circle cx="756.75" cy="716.0" r="8.05"/><circle cx="756.75" cy="712.1" r="8.05"/><circle cx="756.75" cy="708.8" r="8.05"/><circle cx="765.50" cy="324.4" r="8.05"/><circle cx="765.50" cy="324.9" r="8.05"/><circle cx="765.50" cy="372.0" r="8.05"/><circle cx="765.50" cy="426.2" r="8.05"/><circle cx="765.50" cy="433.4" r="8.05"/><circle cx="765.50" cy="443.5" r="8.05"/><circle cx="765.50" cy="450.9" r="8.05"/><circle cx="765.50" cy="457.0" r="8.05"/><circle cx="765.50" cy="470.0" r="8.05"/><circle cx="765.50" cy="477.2" r="8.05"/><circle cx="765.50" cy="489.1" r="8.05"/><circle cx="765.50" cy="499.5" r="8.05"/><circle cx="765.50" cy="504.2" r="8.05"/><circle cx="765.50" cy="514.4" r="8.05"/><circle cx="765.50" cy="524.9" r="8.05"/><circle cx="765.50" cy="530.9" r="8.05"/><circle cx="765.50" cy="538.1" r="8.05"/><circle cx="765.50" cy="730.0" r="8.05"/><circle cx="765.50" cy="720.3" r="8.05"/><circle cx="765.50" cy="714.7" r="8.05"/><circle cx="765.50" cy="710.2" r="8.05"/><circle cx="765.50" cy="706.7" r="8.05"/><circle cx="774.25" cy="264.5" r="8.05"/><circle cx="774.25" cy="296.6" r="8.05"/><circle cx="774.25" cy="297.5" r="8.05"/><circle cx="774.25" cy="298.3" r="8.05"/><circle cx="774.25" cy="299.6" r="8.05"/><circle cx="774.25" cy="307.0" r="8.05"/><circle cx="774.25" cy="324.9" r="8.05"/><circle cx="774.25" cy="325.3" r="8.05"/><circle cx="774.25" cy="340.0" r="8.05"/><circle cx="774.25" cy="351.2" r="8.05"/><circle cx="774.25" cy="350.7" r="8.05"/><circle cx="774.25" cy="350.9" r="8.05"/><circle cx="774.25" cy="365.0" r="8.05"/><circle cx="774.25" cy="379.0" r="8.05"/><circle cx="774.25" cy="384.2" r="8.05"/><circle cx="774.25" cy="392.4" r="8.05"/><circle cx="774.25" cy="400.5" r="8.05"/><circle cx="774.25" cy="402.2" r="8.05"/><circle cx="774.25" cy="411.8" r="8.05"/><circle cx="774.25" cy="419.1" r="8.05"/><circle cx="774.25" cy="423.0" r="8.05"/><circle cx="774.25" cy="430.2" r="8.05"/><circle cx="774.25" cy="439.8" r="8.05"/><circle cx="774.25" cy="440.2" r="8.05"/><circle cx="774.25" cy="449.4" r="8.05"/><circle cx="774.25" cy="453.1" r="8.05"/><circle cx="774.25" cy="462.9" r="8.05"/><circle cx="774.25" cy="470.0" r="8.05"/><circle cx="774.25" cy="473.5" r="8.05"/><circle cx="774.25" cy="477.0" r="8.05"/><circle cx="774.25" cy="485.9" r="8.05"/><circle cx="774.25" cy="491.8" r="8.05"/><circle cx="774.25" cy="498.9" r="8.05"/><circle cx="774.25" cy="503.7" r="8.05"/><circle cx="774.25" cy="510.6" r="8.05"/><circle cx="774.25" cy="517.8" r="8.05"/><circle cx="774.25" cy="522.0" r="8.05"/><circle cx="774.25" cy="527.4" r="8.05"/><circle cx="774.25" cy="536.7" r="8.05"/><circle cx="774.25" cy="743.0" r="8.05"/><circle cx="774.25" cy="733.8" r="8.05"/><circle cx="774.25" cy="728.3" r="8.05"/><circle cx="774.25" cy="725.0" r="8.05"/><circle cx="774.25" cy="720.2" r="8.05"/><circle cx="783.00" cy="407.0" r="8.05"/><circle cx="783.00" cy="433.3" r="8.05"/><circle cx="783.00" cy="439.7" r="8.05"/><circle cx="783.00" cy="450.8" r="8.05"/><circle cx="783.00" cy="461.2" r="8.05"/><circle cx="783.00" cy="466.8" r="8.05"/><circle cx="783.00" cy="479.7" r="8.05"/><circle cx="783.00" cy="488.9" r="8.05"/><circle cx="783.00" cy="500.6" r="8.05"/><circle cx="783.00" cy="506.6" r="8.05"/><circle cx="783.00" cy="514.9" r="8.05"/><circle cx="783.00" cy="523.7" r="8.05"/><circle cx="783.00" cy="537.6" r="8.05"/><circle cx="783.00" cy="725.0" r="8.05"/><circle cx="783.00" cy="715.5" r="8.05"/><circle cx="783.00" cy="709.9" r="8.05"/><circle cx="783.00" cy="707.1" r="8.05"/><circle cx="783.00" cy="702.8" r="8.05"/><circle cx="791.75" cy="446.9" r="8.05"/><circle cx="791.75" cy="455.3" r="8.05"/><circle cx="791.75" cy="470.2" r="8.05"/><circle cx="791.75" cy="479.6" r="8.05"/><circle cx="791.75" cy="487.1" r="8.05"/><circle cx="791.75" cy="494.7" r="8.05"/><circle cx="791.75" cy="504.7" r="8.05"/><circle cx="791.75" cy="510.7" r="8.05"/><circle cx="791.75" cy="526.5" r="8.05"/><circle cx="791.75" cy="530.0" r="8.05"/><circle cx="791.75" cy="541.7" r="8.05"/><circle cx="791.75" cy="728.0" r="8.05"/><circle cx="791.75" cy="719.1" r="8.05"/><circle cx="791.75" cy="713.4" r="8.05"/><circle cx="791.75" cy="709.1" r="8.05"/><circle cx="791.75" cy="706.1" r="8.05"/><circle cx="800.50" cy="267.3" r="8.05"/><circle cx="800.50" cy="271.9" r="8.05"/><circle cx="800.50" cy="273.3" r="8.05"/><circle cx="800.50" cy="287.8" r="8.05"/><circle cx="800.50" cy="289.2" r="8.05"/><circle cx="800.50" cy="292.9" r="8.05"/><circle cx="800.50" cy="304.7" r="8.05"/><circle cx="800.50" cy="304.9" r="8.05"/><circle cx="800.50" cy="304.6" r="8.05"/><circle cx="800.50" cy="315.0" r="8.05"/><circle cx="800.50" cy="322.2" r="8.05"/><circle cx="800.50" cy="324.5" r="8.05"/><circle cx="800.50" cy="328.5" r="8.05"/><circle cx="800.50" cy="332.9" r="8.05"/><circle cx="800.50" cy="337.8" r="8.05"/><circle cx="800.50" cy="390.0" r="8.05"/><circle cx="800.50" cy="402.2" r="8.05"/><circle cx="800.50" cy="405.8" r="8.05"/><circle cx="800.50" cy="431.4" r="8.05"/><circle cx="800.50" cy="437.7" r="8.05"/><circle cx="800.50" cy="441.4" r="8.05"/><circle cx="800.50" cy="442.2" r="8.05"/><circle cx="800.50" cy="449.3" r="8.05"/><circle cx="800.50" cy="453.6" r="8.05"/><circle cx="800.50" cy="457.1" r="8.05"/><circle cx="800.50" cy="458.6" r="8.05"/><circle cx="800.50" cy="743.0" r="8.05"/><circle cx="800.50" cy="733.7" r="8.05"/><circle cx="800.50" cy="727.5" r="8.05"/><circle cx="800.50" cy="723.5" r="8.05"/><circle cx="800.50" cy="721.9" r="8.05"/><circle cx="809.25" cy="397.0" r="8.05"/><circle cx="809.25" cy="413.4" r="8.05"/><circle cx="809.25" cy="418.2" r="8.05"/><circle cx="809.25" cy="424.0" r="8.05"/><circle cx="809.25" cy="430.1" r="8.05"/><circle cx="809.25" cy="438.7" r="8.05"/><circle cx="809.25" cy="741.0" r="8.05"/><circle cx="809.25" cy="730.7" r="8.05"/><circle cx="809.25" cy="727.3" r="8.05"/><circle cx="809.25" cy="723.1" r="8.05"/><circle cx="809.25" cy="718.3" r="8.05"/><circle cx="818.00" cy="230.0" r="8.05"/><circle cx="818.00" cy="321.0" r="8.05"/><circle cx="818.00" cy="400.0" r="8.05"/><circle cx="818.00" cy="424.1" r="8.05"/><circle cx="818.00" cy="431.6" r="8.05"/><circle cx="818.00" cy="437.0" r="8.05"/><circle cx="818.00" cy="443.5" r="8.05"/><circle cx="818.00" cy="445.7" r="8.05"/><circle cx="818.00" cy="454.8" r="8.05"/><circle cx="818.00" cy="459.9" r="8.05"/><circle cx="818.00" cy="467.3" r="8.05"/><circle cx="818.00" cy="471.6" r="8.05"/><circle cx="818.00" cy="730.0" r="8.05"/><circle cx="818.00" cy="719.5" r="8.05"/><circle cx="818.00" cy="713.5" r="8.05"/><circle cx="818.00" cy="709.0" r="8.05"/><circle cx="818.00" cy="705.0" r="8.05"/><circle cx="818.00" cy="702.2" r="8.05"/><circle cx="818.00" cy="698.1" r="8.05"/><circle cx="826.75" cy="415.0" r="8.05"/><circle cx="826.75" cy="431.3" r="8.05"/><circle cx="826.75" cy="443.0" r="8.05"/><circle cx="826.75" cy="451.9" r="8.05"/><circle cx="826.75" cy="461.0" r="8.05"/><circle cx="826.75" cy="472.6" r="8.05"/><circle cx="826.75" cy="473.8" r="8.05"/><circle cx="826.75" cy="489.9" r="8.05"/><circle cx="826.75" cy="495.3" r="8.05"/><circle cx="826.75" cy="503.1" r="8.05"/><circle cx="826.75" cy="509.1" r="8.05"/><circle cx="826.75" cy="515.5" r="8.05"/><circle cx="826.75" cy="518.4" r="8.05"/><circle cx="826.75" cy="524.1" r="8.05"/><circle cx="826.75" cy="532.5" r="8.05"/><circle cx="826.75" cy="533.1" r="8.05"/><circle cx="826.75" cy="541.7" r="8.05"/><circle cx="826.75" cy="547.1" r="8.05"/><circle cx="826.75" cy="549.2" r="8.05"/><circle cx="826.75" cy="557.9" r="8.05"/><circle cx="826.75" cy="562.0" r="8.05"/><circle cx="826.75" cy="565.8" r="8.05"/><circle cx="826.75" cy="567.0" r="8.05"/><circle cx="826.75" cy="571.9" r="8.05"/><circle cx="826.75" cy="573.5" r="8.05"/><circle cx="826.75" cy="576.5" r="8.05"/><circle cx="826.75" cy="580.7" r="8.05"/><circle cx="826.75" cy="581.1" r="8.05"/><circle cx="826.75" cy="586.2" r="8.05"/><circle cx="826.75" cy="588.9" r="8.05"/><circle cx="826.75" cy="732.0" r="8.05"/><circle cx="826.75" cy="723.2" r="8.05"/><circle cx="826.75" cy="717.2" r="8.05"/><circle cx="826.75" cy="713.5" r="8.05"/><circle cx="826.75" cy="710.1" r="8.05"/><circle cx="826.75" cy="707.4" r="8.05"/><circle cx="826.75" cy="703.4" r="8.05"/><circle cx="835.50" cy="340.0" r="8.05"/><circle cx="835.50" cy="407.5" r="8.05"/><circle cx="835.50" cy="422.1" r="8.05"/><circle cx="835.50" cy="422.4" r="8.05"/><circle cx="835.50" cy="427.4" r="8.05"/><circle cx="835.50" cy="440.2" r="8.05"/><circle cx="835.50" cy="445.0" r="8.05"/><circle cx="835.50" cy="454.2" r="8.05"/><circle cx="835.50" cy="460.6" r="8.05"/><circle cx="835.50" cy="470.9" r="8.05"/><circle cx="835.50" cy="483.1" r="8.05"/><circle cx="835.50" cy="488.8" r="8.05"/><circle cx="835.50" cy="498.3" r="8.05"/><circle cx="835.50" cy="501.8" r="8.05"/><circle cx="835.50" cy="507.2" r="8.05"/><circle cx="835.50" cy="512.5" r="8.05"/><circle cx="835.50" cy="519.6" r="8.05"/><circle cx="835.50" cy="525.3" r="8.05"/><circle cx="835.50" cy="531.6" r="8.05"/><circle cx="835.50" cy="532.9" r="8.05"/><circle cx="835.50" cy="542.1" r="8.05"/><circle cx="835.50" cy="548.5" r="8.05"/><circle cx="835.50" cy="552.1" r="8.05"/><circle cx="835.50" cy="554.8" r="8.05"/><circle cx="835.50" cy="561.0" r="8.05"/><circle cx="835.50" cy="563.2" r="8.05"/><circle cx="835.50" cy="567.0" r="8.05"/><circle cx="835.50" cy="572.5" r="8.05"/><circle cx="835.50" cy="574.7" r="8.05"/><circle cx="835.50" cy="578.1" r="8.05"/><circle cx="835.50" cy="581.7" r="8.05"/><circle cx="835.50" cy="585.3" r="8.05"/><circle cx="835.50" cy="587.6" r="8.05"/><circle cx="835.50" cy="590.8" r="8.05"/><circle cx="835.50" cy="732.5" r="8.05"/><circle cx="835.50" cy="723.2" r="8.05"/><circle cx="835.50" cy="718.0" r="8.05"/><circle cx="835.50" cy="714.1" r="8.05"/><circle cx="835.50" cy="709.6" r="8.05"/><circle cx="835.50" cy="707.3" r="8.05"/><circle cx="835.50" cy="703.9" r="8.05"/><circle cx="844.25" cy="447.6" r="8.05"/><circle cx="844.25" cy="451.0" r="8.05"/><circle cx="844.25" cy="461.8" r="8.05"/><circle cx="844.25" cy="470.4" r="8.05"/><circle cx="844.25" cy="487.7" r="8.05"/><circle cx="844.25" cy="499.1" r="8.05"/><circle cx="844.25" cy="503.9" r="8.05"/><circle cx="844.25" cy="508.1" r="8.05"/><circle cx="844.25" cy="516.7" r="8.05"/><circle cx="844.25" cy="522.4" r="8.05"/><circle cx="844.25" cy="527.0" r="8.05"/><circle cx="844.25" cy="531.1" r="8.05"/><circle cx="844.25" cy="537.2" r="8.05"/><circle cx="844.25" cy="543.9" r="8.05"/><circle cx="844.25" cy="549.2" r="8.05"/><circle cx="844.25" cy="555.7" r="8.05"/><circle cx="844.25" cy="562.9" r="8.05"/><circle cx="844.25" cy="567.8" r="8.05"/><circle cx="844.25" cy="568.2" r="8.05"/><circle cx="844.25" cy="572.7" r="8.05"/><circle cx="844.25" cy="574.1" r="8.05"/><circle cx="844.25" cy="577.4" r="8.05"/><circle cx="844.25" cy="582.4" r="8.05"/><circle cx="844.25" cy="584.7" r="8.05"/><circle cx="844.25" cy="588.8" r="8.05"/><circle cx="844.25" cy="590.3" r="8.05"/><circle cx="844.25" cy="592.0" r="8.05"/><circle cx="844.25" cy="720.0" r="8.05"/><circle cx="844.25" cy="710.6" r="8.05"/><circle cx="844.25" cy="706.4" r="8.05"/><circle cx="844.25" cy="702.5" r="8.05"/><circle cx="844.25" cy="698.0" r="8.05"/><circle cx="844.25" cy="694.7" r="8.05"/><circle cx="844.25" cy="691.2" r="8.05"/><circle cx="853.00" cy="430.6" r="8.05"/><circle cx="853.00" cy="431.2" r="8.05"/><circle cx="853.00" cy="459.6" r="8.05"/><circle cx="853.00" cy="459.4" r="8.05"/><circle cx="853.00" cy="470.0" r="8.05"/><circle cx="853.00" cy="483.0" r="8.05"/><circle cx="853.00" cy="486.3" r="8.05"/><circle cx="853.00" cy="500.5" r="8.05"/><circle cx="853.00" cy="501.4" r="8.05"/><circle cx="853.00" cy="515.2" r="8.05"/><circle cx="853.00" cy="517.1" r="8.05"/><circle cx="853.00" cy="524.0" r="8.05"/><circle cx="853.00" cy="537.1" r="8.05"/><circle cx="853.00" cy="541.1" r="8.05"/><circle cx="853.00" cy="552.6" r="8.05"/><circle cx="853.00" cy="556.1" r="8.05"/><circle cx="853.00" cy="562.7" r="8.05"/><circle cx="853.00" cy="572.4" r="8.05"/><circle cx="853.00" cy="575.3" r="8.05"/><circle cx="853.00" cy="578.9" r="8.05"/><circle cx="853.00" cy="581.6" r="8.05"/><circle cx="853.00" cy="582.7" r="8.05"/><circle cx="853.00" cy="587.5" r="8.05"/><circle cx="853.00" cy="590.9" r="8.05"/><circle cx="853.00" cy="593.2" r="8.05"/><circle cx="853.00" cy="597.8" r="8.05"/><circle cx="853.00" cy="732.5" r="8.05"/><circle cx="853.00" cy="723.0" r="8.05"/><circle cx="853.00" cy="717.2" r="8.05"/><circle cx="853.00" cy="711.4" r="8.05"/><circle cx="853.00" cy="707.6" r="8.05"/><circle cx="853.00" cy="705.5" r="8.05"/><circle cx="853.00" cy="702.6" r="8.05"/><circle cx="861.75" cy="433.0" r="8.05"/><circle cx="861.75" cy="462.0" r="8.05"/><circle cx="861.75" cy="491.7" r="8.05"/><circle cx="861.75" cy="492.7" r="8.05"/><circle cx="861.75" cy="496.7" r="8.05"/><circle cx="861.75" cy="514.9" r="8.05"/><circle cx="861.75" cy="520.6" r="8.05"/><circle cx="861.75" cy="533.7" r="8.05"/><circle cx="861.75" cy="545.7" r="8.05"/><circle cx="861.75" cy="549.9" r="8.05"/><circle cx="861.75" cy="550.2" r="8.05"/><circle cx="861.75" cy="555.6" r="8.05"/><circle cx="861.75" cy="562.4" r="8.05"/><circle cx="861.75" cy="564.7" r="8.05"/><circle cx="861.75" cy="569.9" r="8.05"/><circle cx="861.75" cy="573.9" r="8.05"/><circle cx="861.75" cy="577.2" r="8.05"/><circle cx="861.75" cy="581.1" r="8.05"/><circle cx="861.75" cy="586.9" r="8.05"/><circle cx="861.75" cy="591.6" r="8.05"/><circle cx="861.75" cy="595.0" r="8.05"/><circle cx="861.75" cy="598.2" r="8.05"/><circle cx="861.75" cy="700.0" r="8.05"/><circle cx="861.75" cy="689.6" r="8.05"/><circle cx="861.75" cy="686.5" r="8.05"/><circle cx="861.75" cy="681.9" r="8.05"/><circle cx="861.75" cy="678.7" r="8.05"/><circle cx="861.75" cy="674.6" r="8.05"/><circle cx="861.75" cy="672.2" r="8.05"/><circle cx="870.50" cy="510.0" r="8.05"/><circle cx="870.50" cy="527.1" r="8.05"/><circle cx="870.50" cy="533.7" r="8.05"/><circle cx="870.50" cy="539.8" r="8.05"/><circle cx="870.50" cy="549.4" r="8.05"/><circle cx="870.50" cy="561.9" r="8.05"/><circle cx="870.50" cy="566.1" r="8.05"/><circle cx="870.50" cy="577.3" r="8.05"/><circle cx="870.50" cy="582.0" r="8.05"/><circle cx="870.50" cy="586.2" r="8.05"/><circle cx="870.50" cy="589.2" r="8.05"/><circle cx="870.50" cy="590.8" r="8.05"/><circle cx="870.50" cy="593.1" r="8.05"/><circle cx="870.50" cy="597.3" r="8.05"/><circle cx="870.50" cy="601.1" r="8.05"/><circle cx="870.50" cy="712.0" r="8.05"/><circle cx="870.50" cy="702.4" r="8.05"/><circle cx="870.50" cy="697.3" r="8.05"/><circle cx="870.50" cy="691.3" r="8.05"/><circle cx="870.50" cy="689.1" r="8.05"/><circle cx="870.50" cy="685.7" r="8.05"/><circle cx="870.50" cy="682.7" r="8.05"/><circle cx="879.25" cy="469.0" r="8.05"/><circle cx="879.25" cy="485.0" r="8.05"/><circle cx="879.25" cy="508.5" r="8.05"/><circle cx="879.25" cy="518.1" r="8.05"/><circle cx="879.25" cy="526.8" r="8.05"/><circle cx="879.25" cy="539.1" r="8.05"/><circle cx="879.25" cy="543.5" r="8.05"/><circle cx="879.25" cy="550.9" r="8.05"/><circle cx="879.25" cy="565.5" r="8.05"/><circle cx="879.25" cy="578.0" r="8.05"/><circle cx="879.25" cy="580.7" r="8.05"/><circle cx="879.25" cy="586.3" r="8.05"/><circle cx="879.25" cy="590.5" r="8.05"/><circle cx="879.25" cy="591.6" r="8.05"/><circle cx="879.25" cy="596.5" r="8.05"/><circle cx="879.25" cy="600.3" r="8.05"/><circle cx="879.25" cy="603.1" r="8.05"/><circle cx="879.25" cy="710.0" r="8.05"/><circle cx="879.25" cy="698.9" r="8.05"/><circle cx="879.25" cy="694.5" r="8.05"/><circle cx="879.25" cy="690.1" r="8.05"/><circle cx="879.25" cy="685.6" r="8.05"/><circle cx="879.25" cy="681.4" r="8.05"/><circle cx="879.25" cy="679.6" r="8.05"/><circle cx="888.00" cy="431.0" r="8.05"/><circle cx="888.00" cy="430.0" r="8.05"/><circle cx="888.00" cy="487.0" r="8.05"/><circle cx="888.00" cy="490.6" r="8.05"/><circle cx="888.00" cy="508.9" r="8.05"/><circle cx="888.00" cy="515.2" r="8.05"/><circle cx="888.00" cy="524.8" r="8.05"/><circle cx="888.00" cy="535.9" r="8.05"/><circle cx="888.00" cy="541.9" r="8.05"/><circle cx="888.00" cy="551.9" r="8.05"/><circle cx="888.00" cy="561.8" r="8.05"/><circle cx="888.00" cy="577.0" r="8.05"/><circle cx="888.00" cy="583.6" r="8.05"/><circle cx="888.00" cy="591.9" r="8.05"/><circle cx="888.00" cy="594.7" r="8.05"/><circle cx="888.00" cy="598.4" r="8.05"/><circle cx="888.00" cy="600.5" r="8.05"/><circle cx="888.00" cy="603.5" r="8.05"/><circle cx="888.00" cy="610.0" r="8.05"/><circle cx="888.00" cy="695.0" r="8.05"/><circle cx="888.00" cy="684.7" r="8.05"/><circle cx="888.00" cy="680.8" r="8.05"/><circle cx="888.00" cy="677.1" r="8.05"/><circle cx="888.00" cy="672.4" r="8.05"/><circle cx="888.00" cy="670.1" r="8.05"/><circle cx="888.00" cy="666.7" r="8.05"/><circle cx="896.75" cy="381.0" r="8.05"/><circle cx="896.75" cy="406.0" r="8.05"/><circle cx="896.75" cy="416.0" r="8.05"/><circle cx="896.75" cy="426.0" r="8.05"/><circle cx="896.75" cy="461.0" r="8.05"/><circle cx="896.75" cy="481.0" r="8.05"/><circle cx="896.75" cy="497.0" r="8.05"/><circle cx="896.75" cy="506.0" r="8.05"/><circle cx="896.75" cy="517.0" r="8.05"/><circle cx="896.75" cy="537.6" r="8.05"/><circle cx="896.75" cy="539.9" r="8.05"/><circle cx="896.75" cy="555.0" r="8.05"/><circle cx="896.75" cy="573.6" r="8.05"/><circle cx="896.75" cy="578.7" r="8.05"/><circle cx="896.75" cy="580.0" r="8.05"/><circle cx="896.75" cy="583.5" r="8.05"/><circle cx="896.75" cy="588.7" r="8.05"/><circle cx="896.75" cy="593.0" r="8.05"/><circle cx="896.75" cy="597.0" r="8.05"/><circle cx="896.75" cy="601.3" r="8.05"/><circle cx="896.75" cy="608.0" r="8.05"/><circle cx="896.75" cy="724.0" r="8.05"/><circle cx="896.75" cy="712.0" r="8.05"/><circle cx="896.75" cy="706.8" r="8.05"/><circle cx="896.75" cy="701.7" r="8.05"/><circle cx="896.75" cy="695.7" r="8.05"/><circle cx="896.75" cy="692.8" r="8.05"/><circle cx="896.75" cy="688.8" r="8.05"/><circle cx="905.50" cy="411.0" r="8.05"/><circle cx="905.50" cy="460.0" r="8.05"/><circle cx="905.50" cy="526.2" r="8.05"/><circle cx="905.50" cy="526.6" r="8.05"/><circle cx="905.50" cy="526.7" r="8.05"/><circle cx="905.50" cy="555.0" r="8.05"/><circle cx="905.50" cy="572.2" r="8.05"/><circle cx="905.50" cy="571.9" r="8.05"/><circle cx="905.50" cy="586.7" r="8.05"/><circle cx="905.50" cy="589.3" r="8.05"/><circle cx="905.50" cy="596.1" r="8.05"/><circle cx="905.50" cy="600.0" r="8.05"/><circle cx="905.50" cy="600.8" r="8.05"/><circle cx="905.50" cy="603.9" r="8.05"/><circle cx="905.50" cy="608.5" r="8.05"/><circle cx="905.50" cy="612.6" r="8.05"/><circle cx="905.50" cy="716.0" r="8.05"/><circle cx="905.50" cy="705.9" r="8.05"/><circle cx="905.50" cy="700.1" r="8.05"/><circle cx="905.50" cy="694.0" r="8.05"/><circle cx="905.50" cy="691.5" r="8.05"/><circle cx="905.50" cy="687.7" r="8.05"/><circle cx="905.50" cy="684.3" r="8.05"/><circle cx="914.25" cy="432.5" r="8.05"/><circle cx="914.25" cy="432.5" r="8.05"/><circle cx="914.25" cy="487.0" r="8.05"/><circle cx="914.25" cy="508.8" r="8.05"/><circle cx="914.25" cy="509.9" r="8.05"/><circle cx="914.25" cy="510.7" r="8.05"/><circle cx="914.25" cy="511.3" r="8.05"/><circle cx="914.25" cy="535.1" r="8.05"/><circle cx="914.25" cy="545.1" r="8.05"/><circle cx="914.25" cy="548.0" r="8.05"/><circle cx="914.25" cy="558.5" r="8.05"/><circle cx="914.25" cy="566.5" r="8.05"/><circle cx="914.25" cy="573.9" r="8.05"/><circle cx="914.25" cy="585.6" r="8.05"/><circle cx="914.25" cy="590.6" r="8.05"/><circle cx="914.25" cy="594.4" r="8.05"/><circle cx="914.25" cy="597.7" r="8.05"/><circle cx="914.25" cy="603.1" r="8.05"/><circle cx="914.25" cy="604.3" r="8.05"/><circle cx="914.25" cy="610.4" r="8.05"/><circle cx="914.25" cy="612.1" r="8.05"/><circle cx="914.25" cy="692.0" r="8.05"/><circle cx="914.25" cy="683.3" r="8.05"/><circle cx="914.25" cy="677.0" r="8.05"/><circle cx="914.25" cy="674.4" r="8.05"/><circle cx="914.25" cy="670.8" r="8.05"/><circle cx="914.25" cy="667.7" r="8.05"/><circle cx="914.25" cy="663.3" r="8.05"/><circle cx="923.00" cy="445.0" r="8.05"/><circle cx="923.00" cy="446.0" r="8.05"/><circle cx="923.00" cy="541.7" r="8.05"/><circle cx="923.00" cy="548.3" r="8.05"/><circle cx="923.00" cy="554.0" r="8.05"/><circle cx="923.00" cy="559.9" r="8.05"/><circle cx="923.00" cy="566.3" r="8.05"/><circle cx="923.00" cy="577.1" r="8.05"/><circle cx="923.00" cy="581.8" r="8.05"/><circle cx="923.00" cy="590.1" r="8.05"/><circle cx="923.00" cy="593.8" r="8.05"/><circle cx="923.00" cy="655.8" r="8.05"/><circle cx="923.00" cy="658.8" r="8.05"/><circle cx="923.00" cy="664.7" r="8.05"/><circle cx="923.00" cy="667.7" r="8.05"/><circle cx="923.00" cy="669.8" r="8.05"/><circle cx="923.00" cy="676.0" r="8.05"/><circle cx="923.00" cy="677.4" r="8.05"/><circle cx="923.00" cy="682.1" r="8.05"/><circle cx="923.00" cy="685.8" r="8.05"/><circle cx="931.75" cy="323.0" r="8.05"/><circle cx="931.75" cy="459.0" r="8.05"/><circle cx="931.75" cy="497.0" r="8.05"/><circle cx="931.75" cy="511.4" r="8.05"/><circle cx="931.75" cy="515.0" r="8.05"/><circle cx="931.75" cy="517.2" r="8.05"/><circle cx="931.75" cy="542.5" r="8.05"/><circle cx="931.75" cy="541.5" r="8.05"/><circle cx="931.75" cy="566.3" r="8.05"/><circle cx="931.75" cy="566.8" r="8.05"/><circle cx="931.75" cy="578.6" r="8.05"/><circle cx="931.75" cy="583.6" r="8.05"/><circle cx="931.75" cy="587.1" r="8.05"/><circle cx="931.75" cy="595.2" r="8.05"/><circle cx="931.75" cy="600.4" r="8.05"/><circle cx="931.75" cy="662.9" r="8.05"/><circle cx="931.75" cy="666.3" r="8.05"/><circle cx="931.75" cy="670.5" r="8.05"/><circle cx="931.75" cy="676.4" r="8.05"/><circle cx="931.75" cy="680.0" r="8.05"/><circle cx="931.75" cy="699.5" r="8.05"/><circle cx="940.50" cy="439.0" r="8.05"/><circle cx="940.50" cy="444.1" r="8.05"/><circle cx="940.50" cy="444.9" r="8.05"/><circle cx="940.50" cy="492.0" r="8.05"/><circle cx="940.50" cy="500.0" r="8.05"/><circle cx="940.50" cy="560.0" r="8.05"/><circle cx="940.50" cy="580.7" r="8.05"/><circle cx="940.50" cy="580.9" r="8.05"/><circle cx="940.50" cy="591.4" r="8.05"/><circle cx="940.50" cy="594.5" r="8.05"/><circle cx="940.50" cy="599.2" r="8.05"/><circle cx="940.50" cy="604.2" r="8.05"/><circle cx="940.50" cy="652.5" r="8.05"/><circle cx="940.50" cy="654.6" r="8.05"/><circle cx="940.50" cy="656.6" r="8.05"/><circle cx="940.50" cy="660.3" r="8.05"/><circle cx="940.50" cy="664.7" r="8.05"/><circle cx="940.50" cy="666.1" r="8.05"/><circle cx="940.50" cy="672.9" r="8.05"/><circle cx="949.25" cy="484.0" r="8.05"/><circle cx="949.25" cy="494.4" r="8.05"/><circle cx="949.25" cy="498.0" r="8.05"/><circle cx="949.25" cy="500.1" r="8.05"/><circle cx="949.25" cy="501.2" r="8.05"/><circle cx="949.25" cy="535.2" r="8.05"/><circle cx="949.25" cy="537.7" r="8.05"/><circle cx="949.25" cy="574.6" r="8.05"/><circle cx="949.25" cy="581.2" r="8.05"/><circle cx="949.25" cy="587.1" r="8.05"/><circle cx="949.25" cy="594.0" r="8.05"/><circle cx="949.25" cy="603.8" r="8.05"/><circle cx="949.25" cy="610.7" r="8.05"/><circle cx="949.25" cy="617.6" r="8.05"/><circle cx="949.25" cy="622.4" r="8.05"/><circle cx="949.25" cy="626.3" r="8.05"/><circle cx="949.25" cy="631.7" r="8.05"/><circle cx="949.25" cy="642.1" r="8.05"/><circle cx="949.25" cy="646.3" r="8.05"/><circle cx="949.25" cy="654.3" r="8.05"/><circle cx="949.25" cy="656.3" r="8.05"/><circle cx="958.00" cy="376.0" r="8.05"/><circle cx="958.00" cy="426.5" r="8.05"/><circle cx="958.00" cy="446.0" r="8.05"/><circle cx="958.00" cy="492.0" r="8.05"/><circle cx="958.00" cy="500.0" r="8.05"/><circle cx="958.00" cy="514.0" r="8.05"/><circle cx="958.00" cy="542.0" r="8.05"/><circle cx="958.00" cy="562.0" r="8.05"/><circle cx="958.00" cy="580.0" r="8.05"/><circle cx="958.00" cy="591.7" r="8.05"/><circle cx="958.00" cy="591.6" r="8.05"/><circle cx="958.00" cy="605.1" r="8.05"/><circle cx="958.00" cy="608.4" r="8.05"/><circle cx="958.00" cy="613.2" r="8.05"/><circle cx="958.00" cy="620.6" r="8.05"/><circle cx="958.00" cy="628.1" r="8.05"/><circle cx="958.00" cy="630.6" r="8.05"/><circle cx="958.00" cy="639.8" r="8.05"/><circle cx="958.00" cy="645.5" r="8.05"/><circle cx="958.00" cy="652.0" r="8.05"/><circle cx="958.00" cy="655.6" r="8.05"/><circle cx="958.00" cy="663.0" r="8.05"/><circle cx="958.00" cy="668.1" r="8.05"/><circle cx="966.75" cy="431.4" r="8.05"/><circle cx="966.75" cy="431.7" r="8.05"/><circle cx="966.75" cy="460.0" r="8.05"/><circle cx="966.75" cy="476.5" r="8.05"/><circle cx="966.75" cy="552.0" r="8.05"/><circle cx="966.75" cy="582.0" r="8.05"/><circle cx="966.75" cy="600.5" r="8.05"/><circle cx="966.75" cy="607.2" r="8.05"/><circle cx="966.75" cy="610.6" r="8.05"/><circle cx="966.75" cy="617.0" r="8.05"/><circle cx="966.75" cy="622.3" r="8.05"/><circle cx="966.75" cy="626.7" r="8.05"/><circle cx="966.75" cy="628.8" r="8.05"/><circle cx="966.75" cy="637.4" r="8.05"/><circle cx="966.75" cy="638.5" r="8.05"/><circle cx="966.75" cy="642.7" r="8.05"/><circle cx="966.75" cy="646.7" r="8.05"/><circle cx="966.75" cy="651.7" r="8.05"/><circle cx="966.75" cy="658.8" r="8.05"/><circle cx="966.75" cy="659.8" r="8.05"/><circle cx="966.75" cy="664.8" r="8.05"/><circle cx="975.50" cy="406.0" r="8.05"/><circle cx="975.50" cy="416.0" r="8.05"/><circle cx="975.50" cy="427.0" r="8.05"/><circle cx="975.50" cy="441.6" r="8.05"/><circle cx="975.50" cy="442.6" r="8.05"/><circle cx="975.50" cy="443.5" r="8.05"/><circle cx="975.50" cy="457.0" r="8.05"/><circle cx="975.50" cy="477.0" r="8.05"/><circle cx="975.50" cy="490.0" r="8.05"/><circle cx="975.50" cy="500.3" r="8.05"/><circle cx="975.50" cy="499.5" r="8.05"/><circle cx="975.50" cy="510.0" r="8.05"/><circle cx="975.50" cy="524.0" r="8.05"/><circle cx="975.50" cy="524.0" r="8.05"/><circle cx="975.50" cy="523.7" r="8.05"/><circle cx="975.50" cy="541.0" r="8.05"/><circle cx="975.50" cy="597.0" r="8.05"/><circle cx="975.50" cy="600.7" r="8.05"/><circle cx="975.50" cy="608.0" r="8.05"/><circle cx="975.50" cy="612.9" r="8.05"/><circle cx="975.50" cy="613.8" r="8.05"/><circle cx="975.50" cy="618.6" r="8.05"/><circle cx="975.50" cy="622.5" r="8.05"/><circle cx="975.50" cy="623.9" r="8.05"/><circle cx="975.50" cy="629.4" r="8.05"/><circle cx="975.50" cy="633.1" r="8.05"/><circle cx="975.50" cy="634.6" r="8.05"/><circle cx="975.50" cy="638.1" r="8.05"/><circle cx="975.50" cy="644.2" r="8.05"/><circle cx="984.25" cy="413.0" r="8.05"/><circle cx="984.25" cy="512.0" r="8.05"/><circle cx="984.25" cy="577.0" r="8.05"/><circle cx="993.00" cy="431.0" r="8.05"/><circle cx="993.00" cy="457.0" r="8.05"/><circle cx="993.00" cy="486.0" r="8.05"/><circle cx="993.00" cy="500.0" r="8.05"/><circle cx="993.00" cy="511.0" r="8.05"/><circle cx="993.00" cy="533.6" r="8.05"/><circle cx="993.00" cy="533.4" r="8.05"/><circle cx="993.00" cy="533.5" r="8.05"/><circle cx="993.00" cy="542.4" r="8.05"/><circle cx="993.00" cy="542.4" r="8.05"/><circle cx="993.00" cy="541.5" r="8.05"/><circle cx="1001.75" cy="443.0" r="8.05"/><circle cx="1010.50" cy="501.0" r="8.05"/><circle cx="1010.50" cy="551.0" r="8.05"/><circle cx="1054.25" cy="341.0" r="8.05"/><circle cx="1054.25" cy="547.5" r="8.05"/><circle cx="1054.25" cy="563.1" r="8.05"/><circle cx="1054.25" cy="564.3" r="8.05"/><circle cx="1054.25" cy="566.2" r="8.05"/><circle cx="1054.25" cy="588.1" r="8.05"/><circle cx="1054.25" cy="589.4" r="8.05"/><circle cx="1054.25" cy="612.5" r="8.05"/><circle cx="1063.00" cy="592.0" r="8.05"/><circle cx="1063.00" cy="617.0" r="8.05"/><circle cx="1080.50" cy="537.5" r="8.05"/><circle cx="1098.00" cy="491.0" r="8.05"/><circle cx="1106.75" cy="568.0" r="8.05"/><circle cx="1106.75" cy="567.7" r="8.05"/><circle cx="1124.25" cy="441.0" r="8.05"/><circle cx="1124.25" cy="638.0" r="8.05"/><circle cx="1141.75" cy="384.4" r="8.05"/></g>
<path d="M197 778L1142.4 518.8" stroke="#0000FF" stroke-width="7.8" fill="none"/>
<g fill="#009E73" stroke="#000" stroke-width="2" stroke-linejoin="miter"><rect x="190.40" y="173.50" width="32.58" height="0.50"/><rect x="222.98" y="173.20" width="32.58" height="0.80"/><rect x="255.56" y="165.80" width="32.58" height="8.20"/><rect x="288.14" y="161.50" width="32.58" height="12.50"/><rect x="320.72" y="132.90" width="32.58" height="41.10"/><rect x="353.30" y="168.60" width="32.58" height="5.40"/><rect x="385.88" y="159.70" width="32.58" height="14.30"/><rect x="418.46" y="172.90" width="32.58" height="1.10"/><rect x="451.04" y="167.00" width="32.58" height="7.00"/><rect x="483.62" y="161.00" width="32.58" height="13.00"/><rect x="516.20" y="151.90" width="32.58" height="22.10"/><rect x="548.78" y="110.90" width="32.58" height="63.10"/><rect x="581.36" y="166.00" width="32.58" height="8.00"/><rect x="613.94" y="161.50" width="32.58" height="12.50"/><rect x="646.52" y="148.80" width="32.58" height="25.20"/><rect x="679.10" y="168.00" width="32.58" height="6.00"/><rect x="711.68" y="133.60" width="32.58" height="40.40"/><rect x="744.26" y="165.00" width="32.58" height="9.00"/><rect x="776.84" y="156.90" width="32.58" height="17.10"/><rect x="809.42" y="161.70" width="32.58" height="12.30"/><rect x="842.00" y="167.80" width="32.58" height="6.20"/><rect x="874.58" y="170.90" width="32.58" height="3.10"/><rect x="907.16" y="172.20" width="32.58" height="1.80"/><rect x="939.74" y="173.10" width="32.58" height="0.90"/><rect x="972.32" y="173.60" width="32.58" height="0.40"/><rect x="1004.90" y="173.70" width="32.58" height="0.30"/><rect x="1037.48" y="173.70" width="32.58" height="0.30"/><rect x="1070.06" y="173.70" width="32.58" height="0.30"/><rect x="1102.64" y="173.70" width="32.58" height="0.30"/><rect x="1135.22" y="173.70" width="32.58" height="0.30"/></g>
<g fill="#D55E00" stroke="#000" stroke-width="2"><rect x="1228" y="828.31" width="0.30" height="21.19"/><rect x="1228" y="807.12" width="3.00" height="21.19"/><rect x="1228" y="785.93" width="20.00" height="21.19"/><rect x="1228" y="764.74" width="57.00" height="21.19"/><rect x="1228" y="743.55" width="59.00" height="21.19"/><rect x="1228" y="722.36" width="80.00" height="21.19"/><rect x="1228" y="701.17" width="90.00" height="21.19"/><rect x="1228" y="679.98" width="97.00" height="21.19"/><rect x="1228" y="658.79" width="93.00" height="21.19"/><rect x="1228" y="637.60" width="65.75" height="21.19"/><rect x="1228" y="616.41" width="51.00" height="21.19"/><rect x="1228" y="595.22" width="34.00" height="21.19"/><rect x="1228" y="574.03" width="27.00" height="21.19"/><rect x="1228" y="552.84" width="17.00" height="21.19"/><rect x="1228" y="531.65" width="14.00" height="21.19"/><rect x="1228" y="510.46" width="13.00" height="21.19"/><rect x="1228" y="489.27" width="12.25" height="21.19"/><rect x="1228" y="468.08" width="8.00" height="21.19"/><rect x="1228" y="446.89" width="5.50" height="21.19"/><rect x="1228" y="425.70" width="3.25" height="21.19"/><rect x="1228" y="404.51" width="1.50" height="21.19"/><rect x="1228" y="383.32" width="0.20" height="21.19"/><rect x="1228" y="362.13" width="0.20" height="21.19"/><rect x="1228" y="340.94" width="0.20" height="21.19"/><rect x="1228" y="319.75" width="0.20" height="21.19"/><rect x="1228" y="298.56" width="0.20" height="21.19"/><rect x="1228" y="277.37" width="0.20" height="21.19"/><rect x="1228" y="256.18" width="0.20" height="21.19"/><rect x="1228" y="234.99" width="0.20" height="21.19"/><rect x="1228" y="213.80" width="0.20" height="21.19"/></g>
<g font-size="21.33" fill="#4D4D4D"><text x="128.5" y="702.00" text-anchor="end">500000</text><text x="128.5" y="450.00" text-anchor="end">1000000</text><text x="128.5" y="198.00" text-anchor="end">1500000</text><text x="128.5" y="183.00" text-anchor="end">0</text><text x="128.5" y="169.50" text-anchor="end">1000</text><text x="128.5" y="156.00" text-anchor="end">2000</text><text x="128.5" y="142.50" text-anchor="end">3000</text><text x="128.5" y="129.00" text-anchor="end">4000</text><text x="188.00" y="911" text-anchor="middle">50</text><text x="406.75" y="911" text-anchor="middle">75</text><text x="625.50" y="911" text-anchor="middle">100</text><text x="844.25" y="911" text-anchor="middle">125</text><text x="1063.00" y="911" text-anchor="middle">150</text><text x="1228.00" y="911" text-anchor="middle">0</text><text x="1259.40" y="911" text-anchor="middle">1000</text><text x="1290.80" y="911" text-anchor="middle">2000</text><text x="1322.20" y="911" text-anchor="middle">3000</text></g>
<text x="142" y="37.5" font-size="32" font-weight="bold" fill="#000" textLength="463" lengthAdjust="spacing">Significant Test of Correlation</text>
<text x="736.5" y="942" font-size="26.67" font-weight="bold" fill="#000" text-anchor="middle" textLength="221" lengthAdjust="spacing">Floor Area (sqm)</text>
<text transform="translate(36,494) rotate(-90)" font-size="26.67" font-weight="bold" fill="#000" text-anchor="middle" textLength="204" lengthAdjust="spacing">Resale Price ($)</text>
<g fill="#000"><text x="141.15" y="80.5" font-size="26.67" font-style="italic">S</text><text x="190.60" y="80.5" font-size="26.67" letter-spacing="0.72">7.95e+11,</text><text x="319.50" y="80.5" font-size="26.67" font-style="italic">p</text><text x="364.10" y="80.5" font-size="26.67" letter-spacing="0.67">0.00,</text><text x="446.60" y="85.3" font-size="18.67" letter-spacing="0.16">Spearman</text><text x="562.20" y="80.5" font-size="26.67" letter-spacing="0.70">0.67,</text><text x="630.00" y="80.5" font-size="26.67" letter-spacing="1.30">CI</text><text x="657.50" y="85.3" font-size="18.67" letter-spacing="0.25">95%</text><text x="704.10" y="80.5" font-size="26.67" letter-spacing="0.48">[0.66,</text><text x="780.50" y="80.5" font-size="26.67" letter-spacing="0.16">0.68],</text><text x="856.35" y="80.5" font-size="26.67" font-style="italic">n</text><text x="874.00" y="85.3" font-size="18.67" letter-spacing="0.07">pairs</text><text x="942.00" y="80.5" font-size="26.67" letter-spacing="0.16">24,372</text><path d="M169 71.5H183.4M169 76.5H183.4M342.7 71.5H357.6M342.7 76.5H357.6M541 71.5H556M541 76.5H556M921.1 71.5H936M921.1 76.5H936" stroke="#000" stroke-width="1.3" fill="none"/><path d="M432.6 61.8L440.4 55.6L448 61.8" stroke="#000" stroke-width="1.8" fill="none" stroke-linejoin="miter"/><path d="M434.4 86.8V75.2C434.4 71.3 436.6 69.6 439.6 69.6C442.8 69.6 445 71.6 445 75C445 78.3 442.8 80.2 439.7 80.2C437.2 80.2 435.2 79 434.4 76.8" stroke="#000" stroke-width="1.9" fill="none"/></g>
</svg>
</body></html>
